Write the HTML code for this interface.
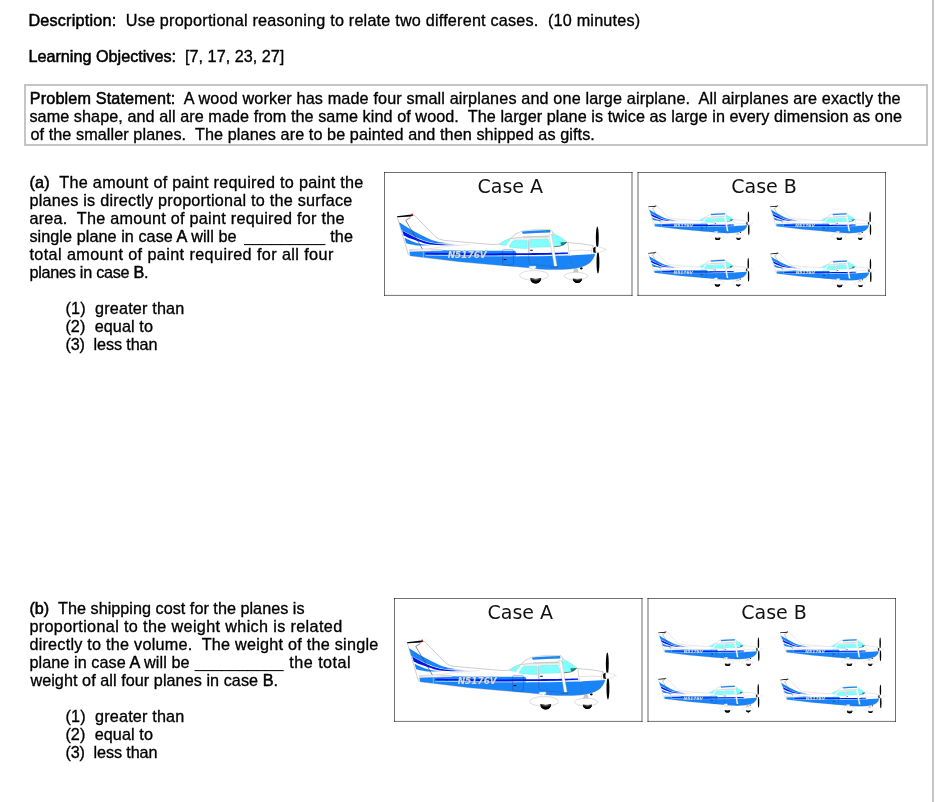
<!DOCTYPE html>
<html lang="en"><head><meta charset="utf-8"><title>Proportional reasoning</title>
<style>
html,body{margin:0;padding:0;background:#fff}
body{width:938px;height:802px;position:relative;overflow:hidden;font-family:"Liberation Sans", Arial, sans-serif;font-size:16.2px;color:#000}
.t{position:absolute;white-space:pre;line-height:18px;height:18px;-webkit-text-stroke:0.32px #000}
.t b{font-weight:normal;-webkit-text-stroke:0.52px #000}
.vr{position:absolute;left:932px;top:0;width:2px;height:802px;background:#c4c5c7}
.box{position:absolute;left:24px;top:84px;width:900px;height:58px;border:2px solid #c4c5c7}
.u{position:absolute;white-space:pre;line-height:18px;height:18px}
svg{position:absolute;left:0;top:0}
</style></head>
<body>
<div class="vr"></div>
<div class="box"></div>
<div class="t" id="l0" style="left:28.40px;top:11.00px;letter-spacing:0.206px"><b>Description:</b>  Use proportional reasoning to relate two different cases.  (10 minutes)</div>
<div class="t" id="l1" style="left:28.40px;top:47.00px;letter-spacing:0.006px"><b>Learning Objectives:</b>  [7, 17, 23, 27]</div>
<div class="t" id="l2" style="left:29.80px;top:89.00px;letter-spacing:0.144px"><b>Problem Statement:</b>  A wood worker has made four small airplanes and one large airplane.  All airplanes are exactly the</div>
<div class="t" id="l3" style="left:29.40px;top:107.00px;letter-spacing:0.070px">same shape, and all are made from the same kind of wood.  The larger plane is twice as large in every dimension as one</div>
<div class="t" id="l4" style="left:30.40px;top:125.00px;letter-spacing:0.087px">of the smaller planes.  The planes are to be painted and then shipped as gifts.</div>
<div class="t" id="l5" style="left:29.40px;top:173.00px;letter-spacing:0.289px"><b>(a)</b>  The amount of paint required to paint the</div>
<div class="t" id="l6" style="left:29.40px;top:191.00px;letter-spacing:0.236px">planes is directly proportional to the surface</div>
<div class="t" id="l7" style="left:29.40px;top:209.00px;letter-spacing:0.269px">area.  The amount of paint required for the</div>
<div class="t" id="l8" style="left:29.40px;top:227.00px;letter-spacing:0.066px">single plane in case <b>A</b> will be</div>
<div class="t" id="l9" style="left:330.20px;top:227.00px;letter-spacing:0.100px">the</div>
<div class="t" id="l10" style="left:29.40px;top:245.00px;letter-spacing:0.402px">total amount of paint required for all four</div>
<div class="t" id="l11" style="left:29.40px;top:263.00px;letter-spacing:-0.256px">planes in case <b>B</b>.</div>
<div class="t" id="l12" style="left:65.40px;top:299.00px;letter-spacing:0.175px">(1)  greater than</div>
<div class="t" id="l13" style="left:65.40px;top:317.00px;letter-spacing:0.092px">(2)  equal to</div>
<div class="t" id="l14" style="left:65.40px;top:335.00px;letter-spacing:-0.115px">(3)  less than</div>
<div class="t" id="l15" style="left:29.40px;top:599.00px;letter-spacing:0.026px"><b>(b)</b>  The shipping cost for the planes is</div>
<div class="t" id="l16" style="left:29.40px;top:617.00px;letter-spacing:0.355px">proportional to the weight which is related</div>
<div class="t" id="l17" style="left:29.40px;top:635.00px;letter-spacing:0.244px">directly to the volume.  The weight of the single</div>
<div class="t" id="l18" style="left:29.40px;top:653.00px;letter-spacing:0.077px">plane in case <b>A</b> will be</div>
<div class="t" id="l19" style="left:289.20px;top:653.00px;letter-spacing:0.487px">the total</div>
<div class="t" id="l20" style="left:30.40px;top:671.00px;letter-spacing:0.057px">weight of all four planes in case <b>B</b>.</div>
<div class="t" id="l21" style="left:65.40px;top:707.00px;letter-spacing:0.175px">(1)  greater than</div>
<div class="t" id="l22" style="left:65.40px;top:725.00px;letter-spacing:0.092px">(2)  equal to</div>
<div class="t" id="l23" style="left:65.40px;top:743.00px;letter-spacing:-0.115px">(3)  less than</div>
<div class="u" style="left:244.20px;top:227px;letter-spacing:0px">_________</div>
<div class="u" style="left:194.80px;top:653px;letter-spacing:-0.16px">__________</div>
<svg width="938" height="802" viewBox="0 0 938 802">
<g transform="translate(0,0)">
<rect x="384" y="172" width="248.7" height="123.8" fill="#fff"/>
<rect x="637.2" y="172" width="248.9" height="123.8" fill="#fff"/>
<path d="M384.5,172 V295.9" fill="none" stroke="#000" stroke-opacity="0.56" stroke-width="1.0"/>
<path d="M384,172.5 H632.5" fill="none" stroke="#000" stroke-opacity="0.56" stroke-width="1.0"/>
<path d="M384,295.4 H632.5" fill="none" stroke="#000" stroke-opacity="0.56" stroke-width="1.0"/>
<path d="M632.0,172 V295.9" fill="none" stroke="#000" stroke-opacity="0.56" stroke-width="1.05"/>
<path d="M638.0,172 V295.9" fill="none" stroke="#000" stroke-opacity="0.56" stroke-width="1.05"/>
<path d="M637.5,172.5 H886" fill="none" stroke="#000" stroke-opacity="0.56" stroke-width="1.0"/>
<path d="M637.5,295.4 H886" fill="none" stroke="#000" stroke-opacity="0.56" stroke-width="1.0"/>
<path d="M885.5,172 V295.9" fill="none" stroke="#000" stroke-opacity="0.56" stroke-width="1.0"/>
<text x="477.5" y="193.2" font-family="'DejaVu Sans', Verdana, sans-serif" font-size="19" fill="#111">Case A</text>
<text x="731.3" y="192.7" font-family="'DejaVu Sans', Verdana, sans-serif" font-size="19" fill="#111">Case B</text>
<g>
<linearGradient id="f1pa" gradientUnits="userSpaceOnUse" x1="437" y1="0" x2="452" y2="0"><stop offset="0" stop-color="#1884f8"/><stop offset="1" stop-color="#1884f8" stop-opacity="0"/></linearGradient>
<linearGradient id="f2pa" gradientUnits="userSpaceOnUse" x1="441" y1="0" x2="461" y2="0"><stop offset="0" stop-color="#0014f0"/><stop offset="1" stop-color="#0014f0" stop-opacity="0"/></linearGradient>
<linearGradient id="f3pa" gradientUnits="userSpaceOnUse" x1="420" y1="0" x2="432" y2="0"><stop offset="0" stop-color="#1884f8"/><stop offset="1" stop-color="#1884f8" stop-opacity="0"/></linearGradient>
<radialGradient id="wpa" cx="0.5" cy="0.05" r="0.55"><stop offset="0" stop-color="#c8c8c8"/><stop offset="0.5" stop-color="#444"/><stop offset="1" stop-color="#000"/></radialGradient>
<ellipse cx="535.7" cy="278.4" rx="5.5" ry="5.1" fill="url(#wpa)"/>
<ellipse cx="577.4" cy="278.8" rx="4.6" ry="4.3" fill="url(#wpa)"/>
<path d="M574.6,268.8 L577.2,268.8 L578.3,272.6 L573.2,272.6 Z" fill="#c9c9c9" stroke="#999" stroke-width="0.3"/>
<ellipse cx="581.3" cy="268.3" rx="1.4" ry="1.1" fill="#000"/>
<ellipse cx="534.1" cy="275.4" rx="14.5" ry="4.9" fill="#fff" stroke="#cfcfcf" stroke-width="0.7"/>
<ellipse cx="576.1" cy="276.1" rx="11.7" ry="3.8" fill="#fff" stroke="#cfcfcf" stroke-width="0.7"/>
<path d="M530.2,278.1 A5.5,5.4 0 0 0 541.2,278.1 Q535.7,278.9 530.2,278.1 Z" fill="url(#wpa)"/>
<path d="M572.8,278.5 A4.6,4.6 0 0 0 582.0,278.5 Q577.4,279.2 572.8,278.5 Z" fill="url(#wpa)"/>
<path d="M 408.34,254.48 L 397.25,216.96 L 414.73,215.51 L 436.06,237.42 Q 439.04,239.73 444.58,240.41 L 460.00,241.75 L 492.41,244.56 L 499.23,244.14 Q 504.35,240.47 511.17,238.34 Q 514.58,233.65 521.83,231.51 L 550.90,230.92 L 554.73,234.07 Q 562.41,237.91 566.84,242.17 L 567.95,242.60 Q 581.17,243.20 592.69,245.59 L 593.28,246.61 L 593.54,253.43 L 594.99,254.12 Q 593.54,260.09 588.85,263.50 Q 582.88,267.76 570.09,269.04 Q 555.59,270.15 538.53,269.04 L 528.23,267.76 L 460.00,261.79 L 410.04,255.76 Z" fill="#fff" stroke="#9c9c9c" stroke-width="0.5" stroke-linejoin="round"/>
<path d="M399.04,222.33 C401.09,223.57 407.14,227.37 411.32,229.75 C415.50,232.12 420.28,234.72 424.12,236.57 C427.95,238.42 430.94,239.80 434.35,240.84 C437.76,241.87 441.46,242.36 444.58,242.80 C447.71,243.24 451.69,243.37 453.11,243.48 L453.11,243.99 C451.69,243.96 447.71,243.99 444.58,243.82 C441.46,243.65 437.76,243.52 434.35,242.97 C430.94,242.41 427.95,241.83 424.12,240.49 C420.28,239.16 415.10,236.70 411.32,234.95 C407.54,233.20 403.08,230.83 401.43,230.00 Z" fill="url(#f1pa)"/>
<path d="M402.28,230.86 C403.79,231.62 407.68,233.76 411.32,235.46 C414.96,237.17 419.85,239.70 424.12,241.09 C428.38,242.48 431.79,243.21 436.91,243.82 C442.03,244.43 450.41,244.57 454.82,244.76 C459.23,244.94 461.93,244.90 463.35,244.93 L463.35,245.36 C461.93,245.36 459.23,245.43 454.82,245.36 C450.41,245.29 442.03,245.30 436.91,244.93 C431.79,244.56 428.38,244.15 424.12,243.14 C419.85,242.13 414.72,240.15 411.32,238.87 C407.92,237.59 405.00,236.03 403.73,235.46 Z" fill="url(#f2pa)"/>
<path d="M404.50,237.85 C405.64,238.38 408.76,240.01 411.32,241.01 C413.88,242.00 416.30,243.11 419.85,243.82 C423.40,244.53 430.51,245.03 432.64,245.27 L432.64,245.78 C430.51,245.75 423.40,245.84 419.85,245.61 C416.30,245.38 413.60,244.83 411.32,244.42 C409.05,244.01 407.06,243.35 406.20,243.14 Z" fill="url(#f3pa)"/>
<path d="M 410.30,217.64 L 405.78,220.37 L 422.84,249.79" fill="none" stroke="#3c3c3c" stroke-width="0.6" stroke-linejoin="round"/>
<path d="M 396.82,216.19 L 411.32,214.57 L 413.37,215.51 L 410.47,216.61 L 397.68,217.21 Z" fill="#000"/>
<circle cx="412.17" cy="214.40" r="0.95" fill="#f01818"/>
<path d="M 422.84,249.79 Q 441.17,246.55 470.17,244.50" fill="none" stroke="#d0d0d0" stroke-width="0.5"/>
<path d="M 409.45,251.84 L 444.16,250.13 L 460.00,250.70 L 514.58,250.70 Q 516.29,250.87 516.46,253.94 L 567.95,253.26 L 568.55,255.39 L 594.99,254.03 Q 593.54,260.09 588.85,263.50 Q 582.88,267.76 570.09,269.04 Q 555.59,270.15 538.53,269.04 L 528.23,267.76 L 460.00,261.79 L 410.04,255.76 Z" fill="#1884f8"/>
<path d="M425.40,255.30 C431.17,255.37 449.23,255.60 460.00,255.70 C470.77,255.80 480.67,255.88 490.00,255.90 C499.33,255.92 511.67,255.82 516.00,255.80" fill="none" stroke="#a4c8ff" stroke-width="1.1"/>
<path d="M516.00,255.75 C520.00,255.71 531.33,255.67 540.00,255.50 C548.67,255.33 563.08,254.78 568.00,254.75 C572.92,254.72 569.25,255.21 569.50,255.30" fill="none" stroke="#eef2ff" stroke-width="1.3"/>
<path d="M425.40,252.80 C431.17,252.87 449.23,253.10 460.00,253.20 C470.77,253.30 480.67,253.38 490.00,253.40 C499.33,253.42 507.67,253.37 516.00,253.30 C524.33,253.23 531.33,253.15 540.00,253.00 C548.67,252.85 563.33,252.50 568.00,252.40 L568.00,253.70 C563.33,253.87 548.67,254.47 540.00,254.70 C531.33,254.92 524.33,254.98 516.00,255.05 C507.67,255.12 499.33,255.17 490.00,255.15 C480.67,255.13 470.77,255.05 460.00,254.95 C449.23,254.85 431.17,254.62 425.40,254.55 Z" fill="#0014f0"/>
<path d="M 423.26,251.33 L 423.43,258.49" fill="none" stroke="#d8e6ff" stroke-width="0.5"/>
<path d="M 567.95,242.60 Q 568.55,249.85 569.40,255.82 Q 572.64,260.94 572.64,268.44" fill="none" stroke="#5a5a6a" stroke-opacity="0.55" stroke-width="0.45"/>
<path d="M 592.69,245.59 Q 590.98,249.85 591.58,254.29 Q 590.98,260.09 588.85,263.50" fill="none" stroke="#777" stroke-opacity="0.5" stroke-width="0.45"/>
<path d="M 569.40,250.87 Q 581.17,249.42 591.41,250.53" fill="none" stroke="#bbb" stroke-width="0.45"/>
<ellipse cx="425.82" cy="250.13" rx="16.8" ry="1.05" fill="#fff" stroke="#a8a8a8" stroke-width="0.45"/>
<path d="M 430.94,249.62 L 442.20,249.62 L 441.68,250.64 L 430.94,250.64 Z" fill="#d9d9d9"/>
<text x="447.7" y="257.5" font-family="'DejaVu Sans', Verdana, sans-serif" font-size="8.9" font-weight="bold" font-style="italic" fill="#e6e6e6" fill-opacity="0.9" stroke="#7a7a7a" stroke-opacity="0.8" stroke-width="0.3" paint-order="stroke">N5176V</text>
<path d="M 503.67,249.42 L 512.20,249.42 Q 513.39,249.59 513.39,250.87 L 513.39,263.67 Q 513.22,265.20 512.03,265.20 L 503.84,265.20 Q 502.64,265.03 502.64,263.67 L 502.64,250.87 Q 502.64,249.59 503.67,249.42 Z" fill="none" stroke="#203060" stroke-opacity="0.6" stroke-width="0.5"/>
<rect x="503.67" y="259.06" width="2.5" height="1.0" fill="#000"/>
<path d="M 528.66,240.47 L 528.66,260.94 Q 528.91,264.35 532.49,264.69 L 551.32,266.06" fill="none" stroke="#304070" stroke-opacity="0.55" stroke-width="0.5"/>
<path d="M 528.23,238.34 L 528.23,253.26 M 529.51,238.34 L 529.51,253.26" fill="none" stroke="#b5b5b5" stroke-width="0.4"/>
<rect x="530.11" y="249.77" width="2.7" height="1.1" rx="0.4" fill="#000"/>
<path d="M 511.17,238.34 Q 515.44,234.07 521.83,231.94 L 549.19,234.67 L 548.34,238.93 L 513.30,240.30 Z" fill="#efefef"/>
<path d="M 499.23,244.14 Q 504.35,240.30 511.17,238.08 L 506.06,245.59 Q 502.22,245.59 499.23,244.14 Z" fill="#80fffc" stroke="#74d4d0" stroke-width="0.3"/>
<path d="M 527.38,240.30 L 514.58,240.30 Q 512.45,240.47 511.17,242.86 L 509.21,246.01 Q 508.78,247.46 511.17,247.80 L 527.21,248.66 Z" fill="#80fffc" stroke="#74d4d0" stroke-width="0.3"/>
<path d="M 530.11,239.62 L 548.17,239.10 L 550.47,246.95 L 530.11,247.46 Z" fill="#80fffc" stroke="#74d4d0" stroke-width="0.3"/>
<path d="M 551.49,235.01 L 554.73,233.99 Q 562.41,237.48 566.67,242.00 Q 564.12,245.16 559.85,246.10 L 554.05,246.61 Z" fill="#80fffc"/>
<path d="M 560.53,242.35 L 566.67,242.00 Q 564.54,244.73 562.84,245.33 L 560.87,244.73 Z" fill="#188a86"/>
<path d="M 554.05,246.70 L 559.85,246.18 Q 564.12,245.25 566.76,242.09" fill="none" stroke="#0a2020" stroke-width="0.55"/>
<path d="M 511.17,238.34 Q 514.58,233.65 521.58,231.26 Q 536.82,228.10 550.90,229.55 Q 553.45,231.51 552.60,235.35 Q 551.32,236.38 549.19,235.86 L 523.11,237.06 Z" fill="#fff" stroke="#a8a8a8" stroke-width="0.45"/>
<path d="M522.2,231.5 Q536,229.9 550.0,229.95 Q550.9,231.2 550.2,232.5 Q536,233.1 523.0,233.75 Q521.7,232.7 522.2,231.5 Z" fill="#1884f8"/>
<path d="M 523.11,237.06 L 548.34,236.72" fill="none" stroke="#c4c4c4" stroke-width="0.9"/>
<circle cx="544.93" cy="231.51" r="0.85" fill="#18c828"/>
<path d="M 548.93,234.67 L 551.49,234.50 L 557.12,266.48 L 554.31,266.65 Z" fill="#fff" stroke="#b0b0b0" stroke-width="0.4"/>
<path d="M 550.90,266.48 L 557.97,266.31 L 558.14,267.93 L 550.72,267.93 Z" fill="#1470d8"/>
<path d="M 529.19,266.32 L 535.72,265.94 L 535.91,267.96 L 534.47,268.44 L 535.14,270.83 L 532.26,270.83 L 532.26,268.44 L 529.39,268.24 Z" fill="#fff" stroke="#cfcfcf" stroke-width="0.4"/>
<ellipse cx="597.3" cy="237.6" rx="1.45" ry="11.2" fill="#000"/>
<ellipse cx="597.95" cy="262.4" rx="1.45" ry="11.2" fill="#000"/>
<path d="M593.2,248.5 Q594,247 595.9,246.7 L596.3,253.0 Q594.4,253.0 593.5,252.2 Q592.9,250.4 593.2,248.5 Z" fill="#000"/>
<path d="M595.9,246.6 Q601.5,247.0 606.3,249.5 Q601.5,252.3 596.1,253.0 Q595.0,249.8 595.9,246.6 Z" fill="#fff" stroke="#bdbdbd" stroke-width="0.4"/>
</g>
<g transform="translate(449.80,98.35) scale(0.5)">
<linearGradient id="f1p0" gradientUnits="userSpaceOnUse" x1="437" y1="0" x2="452" y2="0"><stop offset="0" stop-color="#1884f8"/><stop offset="1" stop-color="#1884f8" stop-opacity="0"/></linearGradient>
<linearGradient id="f2p0" gradientUnits="userSpaceOnUse" x1="441" y1="0" x2="461" y2="0"><stop offset="0" stop-color="#0014f0"/><stop offset="1" stop-color="#0014f0" stop-opacity="0"/></linearGradient>
<linearGradient id="f3p0" gradientUnits="userSpaceOnUse" x1="420" y1="0" x2="432" y2="0"><stop offset="0" stop-color="#1884f8"/><stop offset="1" stop-color="#1884f8" stop-opacity="0"/></linearGradient>
<radialGradient id="wp0" cx="0.5" cy="0.05" r="0.55"><stop offset="0" stop-color="#c8c8c8"/><stop offset="0.5" stop-color="#444"/><stop offset="1" stop-color="#000"/></radialGradient>
<ellipse cx="535.7" cy="278.4" rx="5.5" ry="5.1" fill="url(#wp0)"/>
<ellipse cx="577.4" cy="278.8" rx="4.6" ry="4.3" fill="url(#wp0)"/>
<path d="M574.6,268.8 L577.2,268.8 L578.3,272.6 L573.2,272.6 Z" fill="#c9c9c9" stroke="#999" stroke-width="0.3"/>
<ellipse cx="581.3" cy="268.3" rx="1.4" ry="1.1" fill="#000"/>
<ellipse cx="534.1" cy="275.4" rx="14.5" ry="4.9" fill="#fff" stroke="#cfcfcf" stroke-width="0.7"/>
<ellipse cx="576.1" cy="276.1" rx="11.7" ry="3.8" fill="#fff" stroke="#cfcfcf" stroke-width="0.7"/>
<path d="M530.2,278.1 A5.5,5.4 0 0 0 541.2,278.1 Q535.7,278.9 530.2,278.1 Z" fill="url(#wp0)"/>
<path d="M572.8,278.5 A4.6,4.6 0 0 0 582.0,278.5 Q577.4,279.2 572.8,278.5 Z" fill="url(#wp0)"/>
<path d="M 408.34,254.48 L 397.25,216.96 L 414.73,215.51 L 436.06,237.42 Q 439.04,239.73 444.58,240.41 L 460.00,241.75 L 492.41,244.56 L 499.23,244.14 Q 504.35,240.47 511.17,238.34 Q 514.58,233.65 521.83,231.51 L 550.90,230.92 L 554.73,234.07 Q 562.41,237.91 566.84,242.17 L 567.95,242.60 Q 581.17,243.20 592.69,245.59 L 593.28,246.61 L 593.54,253.43 L 594.99,254.12 Q 593.54,260.09 588.85,263.50 Q 582.88,267.76 570.09,269.04 Q 555.59,270.15 538.53,269.04 L 528.23,267.76 L 460.00,261.79 L 410.04,255.76 Z" fill="#fff" stroke="#9c9c9c" stroke-width="0.5" stroke-linejoin="round"/>
<path d="M399.04,222.33 C401.09,223.57 407.14,227.37 411.32,229.75 C415.50,232.12 420.28,234.72 424.12,236.57 C427.95,238.42 430.94,239.80 434.35,240.84 C437.76,241.87 441.46,242.36 444.58,242.80 C447.71,243.24 451.69,243.37 453.11,243.48 L453.11,243.99 C451.69,243.96 447.71,243.99 444.58,243.82 C441.46,243.65 437.76,243.52 434.35,242.97 C430.94,242.41 427.95,241.83 424.12,240.49 C420.28,239.16 415.10,236.70 411.32,234.95 C407.54,233.20 403.08,230.83 401.43,230.00 Z" fill="url(#f1p0)"/>
<path d="M402.28,230.86 C403.79,231.62 407.68,233.76 411.32,235.46 C414.96,237.17 419.85,239.70 424.12,241.09 C428.38,242.48 431.79,243.21 436.91,243.82 C442.03,244.43 450.41,244.57 454.82,244.76 C459.23,244.94 461.93,244.90 463.35,244.93 L463.35,245.36 C461.93,245.36 459.23,245.43 454.82,245.36 C450.41,245.29 442.03,245.30 436.91,244.93 C431.79,244.56 428.38,244.15 424.12,243.14 C419.85,242.13 414.72,240.15 411.32,238.87 C407.92,237.59 405.00,236.03 403.73,235.46 Z" fill="url(#f2p0)"/>
<path d="M404.50,237.85 C405.64,238.38 408.76,240.01 411.32,241.01 C413.88,242.00 416.30,243.11 419.85,243.82 C423.40,244.53 430.51,245.03 432.64,245.27 L432.64,245.78 C430.51,245.75 423.40,245.84 419.85,245.61 C416.30,245.38 413.60,244.83 411.32,244.42 C409.05,244.01 407.06,243.35 406.20,243.14 Z" fill="url(#f3p0)"/>
<path d="M 410.30,217.64 L 405.78,220.37 L 422.84,249.79" fill="none" stroke="#3c3c3c" stroke-width="0.6" stroke-linejoin="round"/>
<path d="M 396.82,216.19 L 411.32,214.57 L 413.37,215.51 L 410.47,216.61 L 397.68,217.21 Z" fill="#000"/>
<circle cx="412.17" cy="214.40" r="0.95" fill="#f01818"/>
<path d="M 422.84,249.79 Q 441.17,246.55 470.17,244.50" fill="none" stroke="#d0d0d0" stroke-width="0.5"/>
<path d="M 409.45,251.84 L 444.16,250.13 L 460.00,250.70 L 514.58,250.70 Q 516.29,250.87 516.46,253.94 L 567.95,253.26 L 568.55,255.39 L 594.99,254.03 Q 593.54,260.09 588.85,263.50 Q 582.88,267.76 570.09,269.04 Q 555.59,270.15 538.53,269.04 L 528.23,267.76 L 460.00,261.79 L 410.04,255.76 Z" fill="#1884f8"/>
<path d="M425.40,255.30 C431.17,255.37 449.23,255.60 460.00,255.70 C470.77,255.80 480.67,255.88 490.00,255.90 C499.33,255.92 511.67,255.82 516.00,255.80" fill="none" stroke="#a4c8ff" stroke-width="1.1"/>
<path d="M516.00,255.75 C520.00,255.71 531.33,255.67 540.00,255.50 C548.67,255.33 563.08,254.78 568.00,254.75 C572.92,254.72 569.25,255.21 569.50,255.30" fill="none" stroke="#eef2ff" stroke-width="1.3"/>
<path d="M425.40,252.80 C431.17,252.87 449.23,253.10 460.00,253.20 C470.77,253.30 480.67,253.38 490.00,253.40 C499.33,253.42 507.67,253.37 516.00,253.30 C524.33,253.23 531.33,253.15 540.00,253.00 C548.67,252.85 563.33,252.50 568.00,252.40 L568.00,253.70 C563.33,253.87 548.67,254.47 540.00,254.70 C531.33,254.92 524.33,254.98 516.00,255.05 C507.67,255.12 499.33,255.17 490.00,255.15 C480.67,255.13 470.77,255.05 460.00,254.95 C449.23,254.85 431.17,254.62 425.40,254.55 Z" fill="#0014f0"/>
<path d="M 423.26,251.33 L 423.43,258.49" fill="none" stroke="#d8e6ff" stroke-width="0.5"/>
<path d="M 567.95,242.60 Q 568.55,249.85 569.40,255.82 Q 572.64,260.94 572.64,268.44" fill="none" stroke="#5a5a6a" stroke-opacity="0.55" stroke-width="0.45"/>
<path d="M 592.69,245.59 Q 590.98,249.85 591.58,254.29 Q 590.98,260.09 588.85,263.50" fill="none" stroke="#777" stroke-opacity="0.5" stroke-width="0.45"/>
<path d="M 569.40,250.87 Q 581.17,249.42 591.41,250.53" fill="none" stroke="#bbb" stroke-width="0.45"/>
<ellipse cx="425.82" cy="250.13" rx="16.8" ry="1.05" fill="#fff" stroke="#a8a8a8" stroke-width="0.45"/>
<path d="M 430.94,249.62 L 442.20,249.62 L 441.68,250.64 L 430.94,250.64 Z" fill="#d9d9d9"/>
<text x="447.7" y="257.5" font-family="'DejaVu Sans', Verdana, sans-serif" font-size="8.9" font-weight="bold" font-style="italic" fill="#e6e6e6" fill-opacity="0.9" stroke="#7a7a7a" stroke-opacity="0.8" stroke-width="0.3" paint-order="stroke">N5176V</text>
<path d="M 503.67,249.42 L 512.20,249.42 Q 513.39,249.59 513.39,250.87 L 513.39,263.67 Q 513.22,265.20 512.03,265.20 L 503.84,265.20 Q 502.64,265.03 502.64,263.67 L 502.64,250.87 Q 502.64,249.59 503.67,249.42 Z" fill="none" stroke="#203060" stroke-opacity="0.6" stroke-width="0.5"/>
<rect x="503.67" y="259.06" width="2.5" height="1.0" fill="#000"/>
<path d="M 528.66,240.47 L 528.66,260.94 Q 528.91,264.35 532.49,264.69 L 551.32,266.06" fill="none" stroke="#304070" stroke-opacity="0.55" stroke-width="0.5"/>
<path d="M 528.23,238.34 L 528.23,253.26 M 529.51,238.34 L 529.51,253.26" fill="none" stroke="#b5b5b5" stroke-width="0.4"/>
<rect x="530.11" y="249.77" width="2.7" height="1.1" rx="0.4" fill="#000"/>
<path d="M 511.17,238.34 Q 515.44,234.07 521.83,231.94 L 549.19,234.67 L 548.34,238.93 L 513.30,240.30 Z" fill="#efefef"/>
<path d="M 499.23,244.14 Q 504.35,240.30 511.17,238.08 L 506.06,245.59 Q 502.22,245.59 499.23,244.14 Z" fill="#80fffc" stroke="#74d4d0" stroke-width="0.3"/>
<path d="M 527.38,240.30 L 514.58,240.30 Q 512.45,240.47 511.17,242.86 L 509.21,246.01 Q 508.78,247.46 511.17,247.80 L 527.21,248.66 Z" fill="#80fffc" stroke="#74d4d0" stroke-width="0.3"/>
<path d="M 530.11,239.62 L 548.17,239.10 L 550.47,246.95 L 530.11,247.46 Z" fill="#80fffc" stroke="#74d4d0" stroke-width="0.3"/>
<path d="M 551.49,235.01 L 554.73,233.99 Q 562.41,237.48 566.67,242.00 Q 564.12,245.16 559.85,246.10 L 554.05,246.61 Z" fill="#80fffc"/>
<path d="M 560.53,242.35 L 566.67,242.00 Q 564.54,244.73 562.84,245.33 L 560.87,244.73 Z" fill="#188a86"/>
<path d="M 554.05,246.70 L 559.85,246.18 Q 564.12,245.25 566.76,242.09" fill="none" stroke="#0a2020" stroke-width="0.55"/>
<path d="M 511.17,238.34 Q 514.58,233.65 521.58,231.26 Q 536.82,228.10 550.90,229.55 Q 553.45,231.51 552.60,235.35 Q 551.32,236.38 549.19,235.86 L 523.11,237.06 Z" fill="#fff" stroke="#a8a8a8" stroke-width="0.45"/>
<path d="M522.2,231.5 Q536,229.9 550.0,229.95 Q550.9,231.2 550.2,232.5 Q536,233.1 523.0,233.75 Q521.7,232.7 522.2,231.5 Z" fill="#1884f8"/>
<path d="M 523.11,237.06 L 548.34,236.72" fill="none" stroke="#c4c4c4" stroke-width="0.9"/>
<circle cx="544.93" cy="231.51" r="0.85" fill="#18c828"/>
<path d="M 548.93,234.67 L 551.49,234.50 L 557.12,266.48 L 554.31,266.65 Z" fill="#fff" stroke="#b0b0b0" stroke-width="0.4"/>
<path d="M 550.90,266.48 L 557.97,266.31 L 558.14,267.93 L 550.72,267.93 Z" fill="#1470d8"/>
<path d="M 529.19,266.32 L 535.72,265.94 L 535.91,267.96 L 534.47,268.44 L 535.14,270.83 L 532.26,270.83 L 532.26,268.44 L 529.39,268.24 Z" fill="#fff" stroke="#cfcfcf" stroke-width="0.4"/>
<ellipse cx="597.3" cy="237.6" rx="1.45" ry="11.2" fill="#000"/>
<ellipse cx="597.95" cy="262.4" rx="1.45" ry="11.2" fill="#000"/>
<path d="M593.2,248.5 Q594,247 595.9,246.7 L596.3,253.0 Q594.4,253.0 593.5,252.2 Q592.9,250.4 593.2,248.5 Z" fill="#000"/>
<path d="M595.9,246.6 Q601.5,247.0 606.3,249.5 Q601.5,252.3 596.1,253.0 Q595.0,249.8 595.9,246.6 Z" fill="#fff" stroke="#bdbdbd" stroke-width="0.4"/>
</g>
<g transform="translate(571.50,98.35) scale(0.5)">
<linearGradient id="f1p1" gradientUnits="userSpaceOnUse" x1="437" y1="0" x2="452" y2="0"><stop offset="0" stop-color="#1884f8"/><stop offset="1" stop-color="#1884f8" stop-opacity="0"/></linearGradient>
<linearGradient id="f2p1" gradientUnits="userSpaceOnUse" x1="441" y1="0" x2="461" y2="0"><stop offset="0" stop-color="#0014f0"/><stop offset="1" stop-color="#0014f0" stop-opacity="0"/></linearGradient>
<linearGradient id="f3p1" gradientUnits="userSpaceOnUse" x1="420" y1="0" x2="432" y2="0"><stop offset="0" stop-color="#1884f8"/><stop offset="1" stop-color="#1884f8" stop-opacity="0"/></linearGradient>
<radialGradient id="wp1" cx="0.5" cy="0.05" r="0.55"><stop offset="0" stop-color="#c8c8c8"/><stop offset="0.5" stop-color="#444"/><stop offset="1" stop-color="#000"/></radialGradient>
<ellipse cx="535.7" cy="278.4" rx="5.5" ry="5.1" fill="url(#wp1)"/>
<ellipse cx="577.4" cy="278.8" rx="4.6" ry="4.3" fill="url(#wp1)"/>
<path d="M574.6,268.8 L577.2,268.8 L578.3,272.6 L573.2,272.6 Z" fill="#c9c9c9" stroke="#999" stroke-width="0.3"/>
<ellipse cx="581.3" cy="268.3" rx="1.4" ry="1.1" fill="#000"/>
<ellipse cx="534.1" cy="275.4" rx="14.5" ry="4.9" fill="#fff" stroke="#cfcfcf" stroke-width="0.7"/>
<ellipse cx="576.1" cy="276.1" rx="11.7" ry="3.8" fill="#fff" stroke="#cfcfcf" stroke-width="0.7"/>
<path d="M530.2,278.1 A5.5,5.4 0 0 0 541.2,278.1 Q535.7,278.9 530.2,278.1 Z" fill="url(#wp1)"/>
<path d="M572.8,278.5 A4.6,4.6 0 0 0 582.0,278.5 Q577.4,279.2 572.8,278.5 Z" fill="url(#wp1)"/>
<path d="M 408.34,254.48 L 397.25,216.96 L 414.73,215.51 L 436.06,237.42 Q 439.04,239.73 444.58,240.41 L 460.00,241.75 L 492.41,244.56 L 499.23,244.14 Q 504.35,240.47 511.17,238.34 Q 514.58,233.65 521.83,231.51 L 550.90,230.92 L 554.73,234.07 Q 562.41,237.91 566.84,242.17 L 567.95,242.60 Q 581.17,243.20 592.69,245.59 L 593.28,246.61 L 593.54,253.43 L 594.99,254.12 Q 593.54,260.09 588.85,263.50 Q 582.88,267.76 570.09,269.04 Q 555.59,270.15 538.53,269.04 L 528.23,267.76 L 460.00,261.79 L 410.04,255.76 Z" fill="#fff" stroke="#9c9c9c" stroke-width="0.5" stroke-linejoin="round"/>
<path d="M399.04,222.33 C401.09,223.57 407.14,227.37 411.32,229.75 C415.50,232.12 420.28,234.72 424.12,236.57 C427.95,238.42 430.94,239.80 434.35,240.84 C437.76,241.87 441.46,242.36 444.58,242.80 C447.71,243.24 451.69,243.37 453.11,243.48 L453.11,243.99 C451.69,243.96 447.71,243.99 444.58,243.82 C441.46,243.65 437.76,243.52 434.35,242.97 C430.94,242.41 427.95,241.83 424.12,240.49 C420.28,239.16 415.10,236.70 411.32,234.95 C407.54,233.20 403.08,230.83 401.43,230.00 Z" fill="url(#f1p1)"/>
<path d="M402.28,230.86 C403.79,231.62 407.68,233.76 411.32,235.46 C414.96,237.17 419.85,239.70 424.12,241.09 C428.38,242.48 431.79,243.21 436.91,243.82 C442.03,244.43 450.41,244.57 454.82,244.76 C459.23,244.94 461.93,244.90 463.35,244.93 L463.35,245.36 C461.93,245.36 459.23,245.43 454.82,245.36 C450.41,245.29 442.03,245.30 436.91,244.93 C431.79,244.56 428.38,244.15 424.12,243.14 C419.85,242.13 414.72,240.15 411.32,238.87 C407.92,237.59 405.00,236.03 403.73,235.46 Z" fill="url(#f2p1)"/>
<path d="M404.50,237.85 C405.64,238.38 408.76,240.01 411.32,241.01 C413.88,242.00 416.30,243.11 419.85,243.82 C423.40,244.53 430.51,245.03 432.64,245.27 L432.64,245.78 C430.51,245.75 423.40,245.84 419.85,245.61 C416.30,245.38 413.60,244.83 411.32,244.42 C409.05,244.01 407.06,243.35 406.20,243.14 Z" fill="url(#f3p1)"/>
<path d="M 410.30,217.64 L 405.78,220.37 L 422.84,249.79" fill="none" stroke="#3c3c3c" stroke-width="0.6" stroke-linejoin="round"/>
<path d="M 396.82,216.19 L 411.32,214.57 L 413.37,215.51 L 410.47,216.61 L 397.68,217.21 Z" fill="#000"/>
<circle cx="412.17" cy="214.40" r="0.95" fill="#f01818"/>
<path d="M 422.84,249.79 Q 441.17,246.55 470.17,244.50" fill="none" stroke="#d0d0d0" stroke-width="0.5"/>
<path d="M 409.45,251.84 L 444.16,250.13 L 460.00,250.70 L 514.58,250.70 Q 516.29,250.87 516.46,253.94 L 567.95,253.26 L 568.55,255.39 L 594.99,254.03 Q 593.54,260.09 588.85,263.50 Q 582.88,267.76 570.09,269.04 Q 555.59,270.15 538.53,269.04 L 528.23,267.76 L 460.00,261.79 L 410.04,255.76 Z" fill="#1884f8"/>
<path d="M425.40,255.30 C431.17,255.37 449.23,255.60 460.00,255.70 C470.77,255.80 480.67,255.88 490.00,255.90 C499.33,255.92 511.67,255.82 516.00,255.80" fill="none" stroke="#a4c8ff" stroke-width="1.1"/>
<path d="M516.00,255.75 C520.00,255.71 531.33,255.67 540.00,255.50 C548.67,255.33 563.08,254.78 568.00,254.75 C572.92,254.72 569.25,255.21 569.50,255.30" fill="none" stroke="#eef2ff" stroke-width="1.3"/>
<path d="M425.40,252.80 C431.17,252.87 449.23,253.10 460.00,253.20 C470.77,253.30 480.67,253.38 490.00,253.40 C499.33,253.42 507.67,253.37 516.00,253.30 C524.33,253.23 531.33,253.15 540.00,253.00 C548.67,252.85 563.33,252.50 568.00,252.40 L568.00,253.70 C563.33,253.87 548.67,254.47 540.00,254.70 C531.33,254.92 524.33,254.98 516.00,255.05 C507.67,255.12 499.33,255.17 490.00,255.15 C480.67,255.13 470.77,255.05 460.00,254.95 C449.23,254.85 431.17,254.62 425.40,254.55 Z" fill="#0014f0"/>
<path d="M 423.26,251.33 L 423.43,258.49" fill="none" stroke="#d8e6ff" stroke-width="0.5"/>
<path d="M 567.95,242.60 Q 568.55,249.85 569.40,255.82 Q 572.64,260.94 572.64,268.44" fill="none" stroke="#5a5a6a" stroke-opacity="0.55" stroke-width="0.45"/>
<path d="M 592.69,245.59 Q 590.98,249.85 591.58,254.29 Q 590.98,260.09 588.85,263.50" fill="none" stroke="#777" stroke-opacity="0.5" stroke-width="0.45"/>
<path d="M 569.40,250.87 Q 581.17,249.42 591.41,250.53" fill="none" stroke="#bbb" stroke-width="0.45"/>
<ellipse cx="425.82" cy="250.13" rx="16.8" ry="1.05" fill="#fff" stroke="#a8a8a8" stroke-width="0.45"/>
<path d="M 430.94,249.62 L 442.20,249.62 L 441.68,250.64 L 430.94,250.64 Z" fill="#d9d9d9"/>
<text x="447.7" y="257.5" font-family="'DejaVu Sans', Verdana, sans-serif" font-size="8.9" font-weight="bold" font-style="italic" fill="#e6e6e6" fill-opacity="0.9" stroke="#7a7a7a" stroke-opacity="0.8" stroke-width="0.3" paint-order="stroke">N5176V</text>
<path d="M 503.67,249.42 L 512.20,249.42 Q 513.39,249.59 513.39,250.87 L 513.39,263.67 Q 513.22,265.20 512.03,265.20 L 503.84,265.20 Q 502.64,265.03 502.64,263.67 L 502.64,250.87 Q 502.64,249.59 503.67,249.42 Z" fill="none" stroke="#203060" stroke-opacity="0.6" stroke-width="0.5"/>
<rect x="503.67" y="259.06" width="2.5" height="1.0" fill="#000"/>
<path d="M 528.66,240.47 L 528.66,260.94 Q 528.91,264.35 532.49,264.69 L 551.32,266.06" fill="none" stroke="#304070" stroke-opacity="0.55" stroke-width="0.5"/>
<path d="M 528.23,238.34 L 528.23,253.26 M 529.51,238.34 L 529.51,253.26" fill="none" stroke="#b5b5b5" stroke-width="0.4"/>
<rect x="530.11" y="249.77" width="2.7" height="1.1" rx="0.4" fill="#000"/>
<path d="M 511.17,238.34 Q 515.44,234.07 521.83,231.94 L 549.19,234.67 L 548.34,238.93 L 513.30,240.30 Z" fill="#efefef"/>
<path d="M 499.23,244.14 Q 504.35,240.30 511.17,238.08 L 506.06,245.59 Q 502.22,245.59 499.23,244.14 Z" fill="#80fffc" stroke="#74d4d0" stroke-width="0.3"/>
<path d="M 527.38,240.30 L 514.58,240.30 Q 512.45,240.47 511.17,242.86 L 509.21,246.01 Q 508.78,247.46 511.17,247.80 L 527.21,248.66 Z" fill="#80fffc" stroke="#74d4d0" stroke-width="0.3"/>
<path d="M 530.11,239.62 L 548.17,239.10 L 550.47,246.95 L 530.11,247.46 Z" fill="#80fffc" stroke="#74d4d0" stroke-width="0.3"/>
<path d="M 551.49,235.01 L 554.73,233.99 Q 562.41,237.48 566.67,242.00 Q 564.12,245.16 559.85,246.10 L 554.05,246.61 Z" fill="#80fffc"/>
<path d="M 560.53,242.35 L 566.67,242.00 Q 564.54,244.73 562.84,245.33 L 560.87,244.73 Z" fill="#188a86"/>
<path d="M 554.05,246.70 L 559.85,246.18 Q 564.12,245.25 566.76,242.09" fill="none" stroke="#0a2020" stroke-width="0.55"/>
<path d="M 511.17,238.34 Q 514.58,233.65 521.58,231.26 Q 536.82,228.10 550.90,229.55 Q 553.45,231.51 552.60,235.35 Q 551.32,236.38 549.19,235.86 L 523.11,237.06 Z" fill="#fff" stroke="#a8a8a8" stroke-width="0.45"/>
<path d="M522.2,231.5 Q536,229.9 550.0,229.95 Q550.9,231.2 550.2,232.5 Q536,233.1 523.0,233.75 Q521.7,232.7 522.2,231.5 Z" fill="#1884f8"/>
<path d="M 523.11,237.06 L 548.34,236.72" fill="none" stroke="#c4c4c4" stroke-width="0.9"/>
<circle cx="544.93" cy="231.51" r="0.85" fill="#18c828"/>
<path d="M 548.93,234.67 L 551.49,234.50 L 557.12,266.48 L 554.31,266.65 Z" fill="#fff" stroke="#b0b0b0" stroke-width="0.4"/>
<path d="M 550.90,266.48 L 557.97,266.31 L 558.14,267.93 L 550.72,267.93 Z" fill="#1470d8"/>
<path d="M 529.19,266.32 L 535.72,265.94 L 535.91,267.96 L 534.47,268.44 L 535.14,270.83 L 532.26,270.83 L 532.26,268.44 L 529.39,268.24 Z" fill="#fff" stroke="#cfcfcf" stroke-width="0.4"/>
<ellipse cx="597.3" cy="237.6" rx="1.45" ry="11.2" fill="#000"/>
<ellipse cx="597.95" cy="262.4" rx="1.45" ry="11.2" fill="#000"/>
<path d="M593.2,248.5 Q594,247 595.9,246.7 L596.3,253.0 Q594.4,253.0 593.5,252.2 Q592.9,250.4 593.2,248.5 Z" fill="#000"/>
<path d="M595.9,246.6 Q601.5,247.0 606.3,249.5 Q601.5,252.3 596.1,253.0 Q595.0,249.8 595.9,246.6 Z" fill="#fff" stroke="#bdbdbd" stroke-width="0.4"/>
</g>
<g transform="translate(449.60,144.85) scale(0.5)">
<linearGradient id="f1p2" gradientUnits="userSpaceOnUse" x1="437" y1="0" x2="452" y2="0"><stop offset="0" stop-color="#1884f8"/><stop offset="1" stop-color="#1884f8" stop-opacity="0"/></linearGradient>
<linearGradient id="f2p2" gradientUnits="userSpaceOnUse" x1="441" y1="0" x2="461" y2="0"><stop offset="0" stop-color="#0014f0"/><stop offset="1" stop-color="#0014f0" stop-opacity="0"/></linearGradient>
<linearGradient id="f3p2" gradientUnits="userSpaceOnUse" x1="420" y1="0" x2="432" y2="0"><stop offset="0" stop-color="#1884f8"/><stop offset="1" stop-color="#1884f8" stop-opacity="0"/></linearGradient>
<radialGradient id="wp2" cx="0.5" cy="0.05" r="0.55"><stop offset="0" stop-color="#c8c8c8"/><stop offset="0.5" stop-color="#444"/><stop offset="1" stop-color="#000"/></radialGradient>
<ellipse cx="535.7" cy="278.4" rx="5.5" ry="5.1" fill="url(#wp2)"/>
<ellipse cx="577.4" cy="278.8" rx="4.6" ry="4.3" fill="url(#wp2)"/>
<path d="M574.6,268.8 L577.2,268.8 L578.3,272.6 L573.2,272.6 Z" fill="#c9c9c9" stroke="#999" stroke-width="0.3"/>
<ellipse cx="581.3" cy="268.3" rx="1.4" ry="1.1" fill="#000"/>
<ellipse cx="534.1" cy="275.4" rx="14.5" ry="4.9" fill="#fff" stroke="#cfcfcf" stroke-width="0.7"/>
<ellipse cx="576.1" cy="276.1" rx="11.7" ry="3.8" fill="#fff" stroke="#cfcfcf" stroke-width="0.7"/>
<path d="M530.2,278.1 A5.5,5.4 0 0 0 541.2,278.1 Q535.7,278.9 530.2,278.1 Z" fill="url(#wp2)"/>
<path d="M572.8,278.5 A4.6,4.6 0 0 0 582.0,278.5 Q577.4,279.2 572.8,278.5 Z" fill="url(#wp2)"/>
<path d="M 408.34,254.48 L 397.25,216.96 L 414.73,215.51 L 436.06,237.42 Q 439.04,239.73 444.58,240.41 L 460.00,241.75 L 492.41,244.56 L 499.23,244.14 Q 504.35,240.47 511.17,238.34 Q 514.58,233.65 521.83,231.51 L 550.90,230.92 L 554.73,234.07 Q 562.41,237.91 566.84,242.17 L 567.95,242.60 Q 581.17,243.20 592.69,245.59 L 593.28,246.61 L 593.54,253.43 L 594.99,254.12 Q 593.54,260.09 588.85,263.50 Q 582.88,267.76 570.09,269.04 Q 555.59,270.15 538.53,269.04 L 528.23,267.76 L 460.00,261.79 L 410.04,255.76 Z" fill="#fff" stroke="#9c9c9c" stroke-width="0.5" stroke-linejoin="round"/>
<path d="M399.04,222.33 C401.09,223.57 407.14,227.37 411.32,229.75 C415.50,232.12 420.28,234.72 424.12,236.57 C427.95,238.42 430.94,239.80 434.35,240.84 C437.76,241.87 441.46,242.36 444.58,242.80 C447.71,243.24 451.69,243.37 453.11,243.48 L453.11,243.99 C451.69,243.96 447.71,243.99 444.58,243.82 C441.46,243.65 437.76,243.52 434.35,242.97 C430.94,242.41 427.95,241.83 424.12,240.49 C420.28,239.16 415.10,236.70 411.32,234.95 C407.54,233.20 403.08,230.83 401.43,230.00 Z" fill="url(#f1p2)"/>
<path d="M402.28,230.86 C403.79,231.62 407.68,233.76 411.32,235.46 C414.96,237.17 419.85,239.70 424.12,241.09 C428.38,242.48 431.79,243.21 436.91,243.82 C442.03,244.43 450.41,244.57 454.82,244.76 C459.23,244.94 461.93,244.90 463.35,244.93 L463.35,245.36 C461.93,245.36 459.23,245.43 454.82,245.36 C450.41,245.29 442.03,245.30 436.91,244.93 C431.79,244.56 428.38,244.15 424.12,243.14 C419.85,242.13 414.72,240.15 411.32,238.87 C407.92,237.59 405.00,236.03 403.73,235.46 Z" fill="url(#f2p2)"/>
<path d="M404.50,237.85 C405.64,238.38 408.76,240.01 411.32,241.01 C413.88,242.00 416.30,243.11 419.85,243.82 C423.40,244.53 430.51,245.03 432.64,245.27 L432.64,245.78 C430.51,245.75 423.40,245.84 419.85,245.61 C416.30,245.38 413.60,244.83 411.32,244.42 C409.05,244.01 407.06,243.35 406.20,243.14 Z" fill="url(#f3p2)"/>
<path d="M 410.30,217.64 L 405.78,220.37 L 422.84,249.79" fill="none" stroke="#3c3c3c" stroke-width="0.6" stroke-linejoin="round"/>
<path d="M 396.82,216.19 L 411.32,214.57 L 413.37,215.51 L 410.47,216.61 L 397.68,217.21 Z" fill="#000"/>
<circle cx="412.17" cy="214.40" r="0.95" fill="#f01818"/>
<path d="M 422.84,249.79 Q 441.17,246.55 470.17,244.50" fill="none" stroke="#d0d0d0" stroke-width="0.5"/>
<path d="M 409.45,251.84 L 444.16,250.13 L 460.00,250.70 L 514.58,250.70 Q 516.29,250.87 516.46,253.94 L 567.95,253.26 L 568.55,255.39 L 594.99,254.03 Q 593.54,260.09 588.85,263.50 Q 582.88,267.76 570.09,269.04 Q 555.59,270.15 538.53,269.04 L 528.23,267.76 L 460.00,261.79 L 410.04,255.76 Z" fill="#1884f8"/>
<path d="M425.40,255.30 C431.17,255.37 449.23,255.60 460.00,255.70 C470.77,255.80 480.67,255.88 490.00,255.90 C499.33,255.92 511.67,255.82 516.00,255.80" fill="none" stroke="#a4c8ff" stroke-width="1.1"/>
<path d="M516.00,255.75 C520.00,255.71 531.33,255.67 540.00,255.50 C548.67,255.33 563.08,254.78 568.00,254.75 C572.92,254.72 569.25,255.21 569.50,255.30" fill="none" stroke="#eef2ff" stroke-width="1.3"/>
<path d="M425.40,252.80 C431.17,252.87 449.23,253.10 460.00,253.20 C470.77,253.30 480.67,253.38 490.00,253.40 C499.33,253.42 507.67,253.37 516.00,253.30 C524.33,253.23 531.33,253.15 540.00,253.00 C548.67,252.85 563.33,252.50 568.00,252.40 L568.00,253.70 C563.33,253.87 548.67,254.47 540.00,254.70 C531.33,254.92 524.33,254.98 516.00,255.05 C507.67,255.12 499.33,255.17 490.00,255.15 C480.67,255.13 470.77,255.05 460.00,254.95 C449.23,254.85 431.17,254.62 425.40,254.55 Z" fill="#0014f0"/>
<path d="M 423.26,251.33 L 423.43,258.49" fill="none" stroke="#d8e6ff" stroke-width="0.5"/>
<path d="M 567.95,242.60 Q 568.55,249.85 569.40,255.82 Q 572.64,260.94 572.64,268.44" fill="none" stroke="#5a5a6a" stroke-opacity="0.55" stroke-width="0.45"/>
<path d="M 592.69,245.59 Q 590.98,249.85 591.58,254.29 Q 590.98,260.09 588.85,263.50" fill="none" stroke="#777" stroke-opacity="0.5" stroke-width="0.45"/>
<path d="M 569.40,250.87 Q 581.17,249.42 591.41,250.53" fill="none" stroke="#bbb" stroke-width="0.45"/>
<ellipse cx="425.82" cy="250.13" rx="16.8" ry="1.05" fill="#fff" stroke="#a8a8a8" stroke-width="0.45"/>
<path d="M 430.94,249.62 L 442.20,249.62 L 441.68,250.64 L 430.94,250.64 Z" fill="#d9d9d9"/>
<text x="447.7" y="257.5" font-family="'DejaVu Sans', Verdana, sans-serif" font-size="8.9" font-weight="bold" font-style="italic" fill="#e6e6e6" fill-opacity="0.9" stroke="#7a7a7a" stroke-opacity="0.8" stroke-width="0.3" paint-order="stroke">N5176V</text>
<path d="M 503.67,249.42 L 512.20,249.42 Q 513.39,249.59 513.39,250.87 L 513.39,263.67 Q 513.22,265.20 512.03,265.20 L 503.84,265.20 Q 502.64,265.03 502.64,263.67 L 502.64,250.87 Q 502.64,249.59 503.67,249.42 Z" fill="none" stroke="#203060" stroke-opacity="0.6" stroke-width="0.5"/>
<rect x="503.67" y="259.06" width="2.5" height="1.0" fill="#000"/>
<path d="M 528.66,240.47 L 528.66,260.94 Q 528.91,264.35 532.49,264.69 L 551.32,266.06" fill="none" stroke="#304070" stroke-opacity="0.55" stroke-width="0.5"/>
<path d="M 528.23,238.34 L 528.23,253.26 M 529.51,238.34 L 529.51,253.26" fill="none" stroke="#b5b5b5" stroke-width="0.4"/>
<rect x="530.11" y="249.77" width="2.7" height="1.1" rx="0.4" fill="#000"/>
<path d="M 511.17,238.34 Q 515.44,234.07 521.83,231.94 L 549.19,234.67 L 548.34,238.93 L 513.30,240.30 Z" fill="#efefef"/>
<path d="M 499.23,244.14 Q 504.35,240.30 511.17,238.08 L 506.06,245.59 Q 502.22,245.59 499.23,244.14 Z" fill="#80fffc" stroke="#74d4d0" stroke-width="0.3"/>
<path d="M 527.38,240.30 L 514.58,240.30 Q 512.45,240.47 511.17,242.86 L 509.21,246.01 Q 508.78,247.46 511.17,247.80 L 527.21,248.66 Z" fill="#80fffc" stroke="#74d4d0" stroke-width="0.3"/>
<path d="M 530.11,239.62 L 548.17,239.10 L 550.47,246.95 L 530.11,247.46 Z" fill="#80fffc" stroke="#74d4d0" stroke-width="0.3"/>
<path d="M 551.49,235.01 L 554.73,233.99 Q 562.41,237.48 566.67,242.00 Q 564.12,245.16 559.85,246.10 L 554.05,246.61 Z" fill="#80fffc"/>
<path d="M 560.53,242.35 L 566.67,242.00 Q 564.54,244.73 562.84,245.33 L 560.87,244.73 Z" fill="#188a86"/>
<path d="M 554.05,246.70 L 559.85,246.18 Q 564.12,245.25 566.76,242.09" fill="none" stroke="#0a2020" stroke-width="0.55"/>
<path d="M 511.17,238.34 Q 514.58,233.65 521.58,231.26 Q 536.82,228.10 550.90,229.55 Q 553.45,231.51 552.60,235.35 Q 551.32,236.38 549.19,235.86 L 523.11,237.06 Z" fill="#fff" stroke="#a8a8a8" stroke-width="0.45"/>
<path d="M522.2,231.5 Q536,229.9 550.0,229.95 Q550.9,231.2 550.2,232.5 Q536,233.1 523.0,233.75 Q521.7,232.7 522.2,231.5 Z" fill="#1884f8"/>
<path d="M 523.11,237.06 L 548.34,236.72" fill="none" stroke="#c4c4c4" stroke-width="0.9"/>
<circle cx="544.93" cy="231.51" r="0.85" fill="#18c828"/>
<path d="M 548.93,234.67 L 551.49,234.50 L 557.12,266.48 L 554.31,266.65 Z" fill="#fff" stroke="#b0b0b0" stroke-width="0.4"/>
<path d="M 550.90,266.48 L 557.97,266.31 L 558.14,267.93 L 550.72,267.93 Z" fill="#1470d8"/>
<path d="M 529.19,266.32 L 535.72,265.94 L 535.91,267.96 L 534.47,268.44 L 535.14,270.83 L 532.26,270.83 L 532.26,268.44 L 529.39,268.24 Z" fill="#fff" stroke="#cfcfcf" stroke-width="0.4"/>
<ellipse cx="597.3" cy="237.6" rx="1.45" ry="11.2" fill="#000"/>
<ellipse cx="597.95" cy="262.4" rx="1.45" ry="11.2" fill="#000"/>
<path d="M593.2,248.5 Q594,247 595.9,246.7 L596.3,253.0 Q594.4,253.0 593.5,252.2 Q592.9,250.4 593.2,248.5 Z" fill="#000"/>
<path d="M595.9,246.6 Q601.5,247.0 606.3,249.5 Q601.5,252.3 596.1,253.0 Q595.0,249.8 595.9,246.6 Z" fill="#fff" stroke="#bdbdbd" stroke-width="0.4"/>
</g>
<g transform="translate(571.80,145.55) scale(0.5)">
<linearGradient id="f1p3" gradientUnits="userSpaceOnUse" x1="437" y1="0" x2="452" y2="0"><stop offset="0" stop-color="#1884f8"/><stop offset="1" stop-color="#1884f8" stop-opacity="0"/></linearGradient>
<linearGradient id="f2p3" gradientUnits="userSpaceOnUse" x1="441" y1="0" x2="461" y2="0"><stop offset="0" stop-color="#0014f0"/><stop offset="1" stop-color="#0014f0" stop-opacity="0"/></linearGradient>
<linearGradient id="f3p3" gradientUnits="userSpaceOnUse" x1="420" y1="0" x2="432" y2="0"><stop offset="0" stop-color="#1884f8"/><stop offset="1" stop-color="#1884f8" stop-opacity="0"/></linearGradient>
<radialGradient id="wp3" cx="0.5" cy="0.05" r="0.55"><stop offset="0" stop-color="#c8c8c8"/><stop offset="0.5" stop-color="#444"/><stop offset="1" stop-color="#000"/></radialGradient>
<ellipse cx="535.7" cy="278.4" rx="5.5" ry="5.1" fill="url(#wp3)"/>
<ellipse cx="577.4" cy="278.8" rx="4.6" ry="4.3" fill="url(#wp3)"/>
<path d="M574.6,268.8 L577.2,268.8 L578.3,272.6 L573.2,272.6 Z" fill="#c9c9c9" stroke="#999" stroke-width="0.3"/>
<ellipse cx="581.3" cy="268.3" rx="1.4" ry="1.1" fill="#000"/>
<ellipse cx="534.1" cy="275.4" rx="14.5" ry="4.9" fill="#fff" stroke="#cfcfcf" stroke-width="0.7"/>
<ellipse cx="576.1" cy="276.1" rx="11.7" ry="3.8" fill="#fff" stroke="#cfcfcf" stroke-width="0.7"/>
<path d="M530.2,278.1 A5.5,5.4 0 0 0 541.2,278.1 Q535.7,278.9 530.2,278.1 Z" fill="url(#wp3)"/>
<path d="M572.8,278.5 A4.6,4.6 0 0 0 582.0,278.5 Q577.4,279.2 572.8,278.5 Z" fill="url(#wp3)"/>
<path d="M 408.34,254.48 L 397.25,216.96 L 414.73,215.51 L 436.06,237.42 Q 439.04,239.73 444.58,240.41 L 460.00,241.75 L 492.41,244.56 L 499.23,244.14 Q 504.35,240.47 511.17,238.34 Q 514.58,233.65 521.83,231.51 L 550.90,230.92 L 554.73,234.07 Q 562.41,237.91 566.84,242.17 L 567.95,242.60 Q 581.17,243.20 592.69,245.59 L 593.28,246.61 L 593.54,253.43 L 594.99,254.12 Q 593.54,260.09 588.85,263.50 Q 582.88,267.76 570.09,269.04 Q 555.59,270.15 538.53,269.04 L 528.23,267.76 L 460.00,261.79 L 410.04,255.76 Z" fill="#fff" stroke="#9c9c9c" stroke-width="0.5" stroke-linejoin="round"/>
<path d="M399.04,222.33 C401.09,223.57 407.14,227.37 411.32,229.75 C415.50,232.12 420.28,234.72 424.12,236.57 C427.95,238.42 430.94,239.80 434.35,240.84 C437.76,241.87 441.46,242.36 444.58,242.80 C447.71,243.24 451.69,243.37 453.11,243.48 L453.11,243.99 C451.69,243.96 447.71,243.99 444.58,243.82 C441.46,243.65 437.76,243.52 434.35,242.97 C430.94,242.41 427.95,241.83 424.12,240.49 C420.28,239.16 415.10,236.70 411.32,234.95 C407.54,233.20 403.08,230.83 401.43,230.00 Z" fill="url(#f1p3)"/>
<path d="M402.28,230.86 C403.79,231.62 407.68,233.76 411.32,235.46 C414.96,237.17 419.85,239.70 424.12,241.09 C428.38,242.48 431.79,243.21 436.91,243.82 C442.03,244.43 450.41,244.57 454.82,244.76 C459.23,244.94 461.93,244.90 463.35,244.93 L463.35,245.36 C461.93,245.36 459.23,245.43 454.82,245.36 C450.41,245.29 442.03,245.30 436.91,244.93 C431.79,244.56 428.38,244.15 424.12,243.14 C419.85,242.13 414.72,240.15 411.32,238.87 C407.92,237.59 405.00,236.03 403.73,235.46 Z" fill="url(#f2p3)"/>
<path d="M404.50,237.85 C405.64,238.38 408.76,240.01 411.32,241.01 C413.88,242.00 416.30,243.11 419.85,243.82 C423.40,244.53 430.51,245.03 432.64,245.27 L432.64,245.78 C430.51,245.75 423.40,245.84 419.85,245.61 C416.30,245.38 413.60,244.83 411.32,244.42 C409.05,244.01 407.06,243.35 406.20,243.14 Z" fill="url(#f3p3)"/>
<path d="M 410.30,217.64 L 405.78,220.37 L 422.84,249.79" fill="none" stroke="#3c3c3c" stroke-width="0.6" stroke-linejoin="round"/>
<path d="M 396.82,216.19 L 411.32,214.57 L 413.37,215.51 L 410.47,216.61 L 397.68,217.21 Z" fill="#000"/>
<circle cx="412.17" cy="214.40" r="0.95" fill="#f01818"/>
<path d="M 422.84,249.79 Q 441.17,246.55 470.17,244.50" fill="none" stroke="#d0d0d0" stroke-width="0.5"/>
<path d="M 409.45,251.84 L 444.16,250.13 L 460.00,250.70 L 514.58,250.70 Q 516.29,250.87 516.46,253.94 L 567.95,253.26 L 568.55,255.39 L 594.99,254.03 Q 593.54,260.09 588.85,263.50 Q 582.88,267.76 570.09,269.04 Q 555.59,270.15 538.53,269.04 L 528.23,267.76 L 460.00,261.79 L 410.04,255.76 Z" fill="#1884f8"/>
<path d="M425.40,255.30 C431.17,255.37 449.23,255.60 460.00,255.70 C470.77,255.80 480.67,255.88 490.00,255.90 C499.33,255.92 511.67,255.82 516.00,255.80" fill="none" stroke="#a4c8ff" stroke-width="1.1"/>
<path d="M516.00,255.75 C520.00,255.71 531.33,255.67 540.00,255.50 C548.67,255.33 563.08,254.78 568.00,254.75 C572.92,254.72 569.25,255.21 569.50,255.30" fill="none" stroke="#eef2ff" stroke-width="1.3"/>
<path d="M425.40,252.80 C431.17,252.87 449.23,253.10 460.00,253.20 C470.77,253.30 480.67,253.38 490.00,253.40 C499.33,253.42 507.67,253.37 516.00,253.30 C524.33,253.23 531.33,253.15 540.00,253.00 C548.67,252.85 563.33,252.50 568.00,252.40 L568.00,253.70 C563.33,253.87 548.67,254.47 540.00,254.70 C531.33,254.92 524.33,254.98 516.00,255.05 C507.67,255.12 499.33,255.17 490.00,255.15 C480.67,255.13 470.77,255.05 460.00,254.95 C449.23,254.85 431.17,254.62 425.40,254.55 Z" fill="#0014f0"/>
<path d="M 423.26,251.33 L 423.43,258.49" fill="none" stroke="#d8e6ff" stroke-width="0.5"/>
<path d="M 567.95,242.60 Q 568.55,249.85 569.40,255.82 Q 572.64,260.94 572.64,268.44" fill="none" stroke="#5a5a6a" stroke-opacity="0.55" stroke-width="0.45"/>
<path d="M 592.69,245.59 Q 590.98,249.85 591.58,254.29 Q 590.98,260.09 588.85,263.50" fill="none" stroke="#777" stroke-opacity="0.5" stroke-width="0.45"/>
<path d="M 569.40,250.87 Q 581.17,249.42 591.41,250.53" fill="none" stroke="#bbb" stroke-width="0.45"/>
<ellipse cx="425.82" cy="250.13" rx="16.8" ry="1.05" fill="#fff" stroke="#a8a8a8" stroke-width="0.45"/>
<path d="M 430.94,249.62 L 442.20,249.62 L 441.68,250.64 L 430.94,250.64 Z" fill="#d9d9d9"/>
<text x="447.7" y="257.5" font-family="'DejaVu Sans', Verdana, sans-serif" font-size="8.9" font-weight="bold" font-style="italic" fill="#e6e6e6" fill-opacity="0.9" stroke="#7a7a7a" stroke-opacity="0.8" stroke-width="0.3" paint-order="stroke">N5176V</text>
<path d="M 503.67,249.42 L 512.20,249.42 Q 513.39,249.59 513.39,250.87 L 513.39,263.67 Q 513.22,265.20 512.03,265.20 L 503.84,265.20 Q 502.64,265.03 502.64,263.67 L 502.64,250.87 Q 502.64,249.59 503.67,249.42 Z" fill="none" stroke="#203060" stroke-opacity="0.6" stroke-width="0.5"/>
<rect x="503.67" y="259.06" width="2.5" height="1.0" fill="#000"/>
<path d="M 528.66,240.47 L 528.66,260.94 Q 528.91,264.35 532.49,264.69 L 551.32,266.06" fill="none" stroke="#304070" stroke-opacity="0.55" stroke-width="0.5"/>
<path d="M 528.23,238.34 L 528.23,253.26 M 529.51,238.34 L 529.51,253.26" fill="none" stroke="#b5b5b5" stroke-width="0.4"/>
<rect x="530.11" y="249.77" width="2.7" height="1.1" rx="0.4" fill="#000"/>
<path d="M 511.17,238.34 Q 515.44,234.07 521.83,231.94 L 549.19,234.67 L 548.34,238.93 L 513.30,240.30 Z" fill="#efefef"/>
<path d="M 499.23,244.14 Q 504.35,240.30 511.17,238.08 L 506.06,245.59 Q 502.22,245.59 499.23,244.14 Z" fill="#80fffc" stroke="#74d4d0" stroke-width="0.3"/>
<path d="M 527.38,240.30 L 514.58,240.30 Q 512.45,240.47 511.17,242.86 L 509.21,246.01 Q 508.78,247.46 511.17,247.80 L 527.21,248.66 Z" fill="#80fffc" stroke="#74d4d0" stroke-width="0.3"/>
<path d="M 530.11,239.62 L 548.17,239.10 L 550.47,246.95 L 530.11,247.46 Z" fill="#80fffc" stroke="#74d4d0" stroke-width="0.3"/>
<path d="M 551.49,235.01 L 554.73,233.99 Q 562.41,237.48 566.67,242.00 Q 564.12,245.16 559.85,246.10 L 554.05,246.61 Z" fill="#80fffc"/>
<path d="M 560.53,242.35 L 566.67,242.00 Q 564.54,244.73 562.84,245.33 L 560.87,244.73 Z" fill="#188a86"/>
<path d="M 554.05,246.70 L 559.85,246.18 Q 564.12,245.25 566.76,242.09" fill="none" stroke="#0a2020" stroke-width="0.55"/>
<path d="M 511.17,238.34 Q 514.58,233.65 521.58,231.26 Q 536.82,228.10 550.90,229.55 Q 553.45,231.51 552.60,235.35 Q 551.32,236.38 549.19,235.86 L 523.11,237.06 Z" fill="#fff" stroke="#a8a8a8" stroke-width="0.45"/>
<path d="M522.2,231.5 Q536,229.9 550.0,229.95 Q550.9,231.2 550.2,232.5 Q536,233.1 523.0,233.75 Q521.7,232.7 522.2,231.5 Z" fill="#1884f8"/>
<path d="M 523.11,237.06 L 548.34,236.72" fill="none" stroke="#c4c4c4" stroke-width="0.9"/>
<circle cx="544.93" cy="231.51" r="0.85" fill="#18c828"/>
<path d="M 548.93,234.67 L 551.49,234.50 L 557.12,266.48 L 554.31,266.65 Z" fill="#fff" stroke="#b0b0b0" stroke-width="0.4"/>
<path d="M 550.90,266.48 L 557.97,266.31 L 558.14,267.93 L 550.72,267.93 Z" fill="#1470d8"/>
<path d="M 529.19,266.32 L 535.72,265.94 L 535.91,267.96 L 534.47,268.44 L 535.14,270.83 L 532.26,270.83 L 532.26,268.44 L 529.39,268.24 Z" fill="#fff" stroke="#cfcfcf" stroke-width="0.4"/>
<ellipse cx="597.3" cy="237.6" rx="1.45" ry="11.2" fill="#000"/>
<ellipse cx="597.95" cy="262.4" rx="1.45" ry="11.2" fill="#000"/>
<path d="M593.2,248.5 Q594,247 595.9,246.7 L596.3,253.0 Q594.4,253.0 593.5,252.2 Q592.9,250.4 593.2,248.5 Z" fill="#000"/>
<path d="M595.9,246.6 Q601.5,247.0 606.3,249.5 Q601.5,252.3 596.1,253.0 Q595.0,249.8 595.9,246.6 Z" fill="#fff" stroke="#bdbdbd" stroke-width="0.4"/>
</g>
</g>
<g transform="translate(10,426)">
<rect x="384" y="172" width="248.7" height="123.8" fill="#fff"/>
<rect x="637.2" y="172" width="248.9" height="123.8" fill="#fff"/>
<path d="M384.5,172 V295.9" fill="none" stroke="#000" stroke-opacity="0.56" stroke-width="1.0"/>
<path d="M384,172.5 H632.5" fill="none" stroke="#000" stroke-opacity="0.56" stroke-width="1.0"/>
<path d="M384,295.4 H632.5" fill="none" stroke="#000" stroke-opacity="0.56" stroke-width="1.0"/>
<path d="M632.0,172 V295.9" fill="none" stroke="#000" stroke-opacity="0.56" stroke-width="1.05"/>
<path d="M638.0,172 V295.9" fill="none" stroke="#000" stroke-opacity="0.56" stroke-width="1.05"/>
<path d="M637.5,172.5 H886" fill="none" stroke="#000" stroke-opacity="0.56" stroke-width="1.0"/>
<path d="M637.5,295.4 H886" fill="none" stroke="#000" stroke-opacity="0.56" stroke-width="1.0"/>
<path d="M885.5,172 V295.9" fill="none" stroke="#000" stroke-opacity="0.56" stroke-width="1.0"/>
<text x="477.5" y="193.2" font-family="'DejaVu Sans', Verdana, sans-serif" font-size="19" fill="#111">Case A</text>
<text x="731.3" y="192.7" font-family="'DejaVu Sans', Verdana, sans-serif" font-size="19" fill="#111">Case B</text>
<g>
<linearGradient id="f1qa" gradientUnits="userSpaceOnUse" x1="437" y1="0" x2="452" y2="0"><stop offset="0" stop-color="#1884f8"/><stop offset="1" stop-color="#1884f8" stop-opacity="0"/></linearGradient>
<linearGradient id="f2qa" gradientUnits="userSpaceOnUse" x1="441" y1="0" x2="461" y2="0"><stop offset="0" stop-color="#0014f0"/><stop offset="1" stop-color="#0014f0" stop-opacity="0"/></linearGradient>
<linearGradient id="f3qa" gradientUnits="userSpaceOnUse" x1="420" y1="0" x2="432" y2="0"><stop offset="0" stop-color="#1884f8"/><stop offset="1" stop-color="#1884f8" stop-opacity="0"/></linearGradient>
<radialGradient id="wqa" cx="0.5" cy="0.05" r="0.55"><stop offset="0" stop-color="#c8c8c8"/><stop offset="0.5" stop-color="#444"/><stop offset="1" stop-color="#000"/></radialGradient>
<ellipse cx="535.7" cy="278.4" rx="5.5" ry="5.1" fill="url(#wqa)"/>
<ellipse cx="577.4" cy="278.8" rx="4.6" ry="4.3" fill="url(#wqa)"/>
<path d="M574.6,268.8 L577.2,268.8 L578.3,272.6 L573.2,272.6 Z" fill="#c9c9c9" stroke="#999" stroke-width="0.3"/>
<ellipse cx="581.3" cy="268.3" rx="1.4" ry="1.1" fill="#000"/>
<ellipse cx="534.1" cy="275.4" rx="14.5" ry="4.9" fill="#fff" stroke="#cfcfcf" stroke-width="0.7"/>
<ellipse cx="576.1" cy="276.1" rx="11.7" ry="3.8" fill="#fff" stroke="#cfcfcf" stroke-width="0.7"/>
<path d="M530.2,278.1 A5.5,5.4 0 0 0 541.2,278.1 Q535.7,278.9 530.2,278.1 Z" fill="url(#wqa)"/>
<path d="M572.8,278.5 A4.6,4.6 0 0 0 582.0,278.5 Q577.4,279.2 572.8,278.5 Z" fill="url(#wqa)"/>
<path d="M 408.34,254.48 L 397.25,216.96 L 414.73,215.51 L 436.06,237.42 Q 439.04,239.73 444.58,240.41 L 460.00,241.75 L 492.41,244.56 L 499.23,244.14 Q 504.35,240.47 511.17,238.34 Q 514.58,233.65 521.83,231.51 L 550.90,230.92 L 554.73,234.07 Q 562.41,237.91 566.84,242.17 L 567.95,242.60 Q 581.17,243.20 592.69,245.59 L 593.28,246.61 L 593.54,253.43 L 594.99,254.12 Q 593.54,260.09 588.85,263.50 Q 582.88,267.76 570.09,269.04 Q 555.59,270.15 538.53,269.04 L 528.23,267.76 L 460.00,261.79 L 410.04,255.76 Z" fill="#fff" stroke="#9c9c9c" stroke-width="0.5" stroke-linejoin="round"/>
<path d="M399.04,222.33 C401.09,223.57 407.14,227.37 411.32,229.75 C415.50,232.12 420.28,234.72 424.12,236.57 C427.95,238.42 430.94,239.80 434.35,240.84 C437.76,241.87 441.46,242.36 444.58,242.80 C447.71,243.24 451.69,243.37 453.11,243.48 L453.11,243.99 C451.69,243.96 447.71,243.99 444.58,243.82 C441.46,243.65 437.76,243.52 434.35,242.97 C430.94,242.41 427.95,241.83 424.12,240.49 C420.28,239.16 415.10,236.70 411.32,234.95 C407.54,233.20 403.08,230.83 401.43,230.00 Z" fill="url(#f1qa)"/>
<path d="M402.28,230.86 C403.79,231.62 407.68,233.76 411.32,235.46 C414.96,237.17 419.85,239.70 424.12,241.09 C428.38,242.48 431.79,243.21 436.91,243.82 C442.03,244.43 450.41,244.57 454.82,244.76 C459.23,244.94 461.93,244.90 463.35,244.93 L463.35,245.36 C461.93,245.36 459.23,245.43 454.82,245.36 C450.41,245.29 442.03,245.30 436.91,244.93 C431.79,244.56 428.38,244.15 424.12,243.14 C419.85,242.13 414.72,240.15 411.32,238.87 C407.92,237.59 405.00,236.03 403.73,235.46 Z" fill="url(#f2qa)"/>
<path d="M404.50,237.85 C405.64,238.38 408.76,240.01 411.32,241.01 C413.88,242.00 416.30,243.11 419.85,243.82 C423.40,244.53 430.51,245.03 432.64,245.27 L432.64,245.78 C430.51,245.75 423.40,245.84 419.85,245.61 C416.30,245.38 413.60,244.83 411.32,244.42 C409.05,244.01 407.06,243.35 406.20,243.14 Z" fill="url(#f3qa)"/>
<path d="M 410.30,217.64 L 405.78,220.37 L 422.84,249.79" fill="none" stroke="#3c3c3c" stroke-width="0.6" stroke-linejoin="round"/>
<path d="M 396.82,216.19 L 411.32,214.57 L 413.37,215.51 L 410.47,216.61 L 397.68,217.21 Z" fill="#000"/>
<circle cx="412.17" cy="214.40" r="0.95" fill="#f01818"/>
<path d="M 422.84,249.79 Q 441.17,246.55 470.17,244.50" fill="none" stroke="#d0d0d0" stroke-width="0.5"/>
<path d="M 409.45,251.84 L 444.16,250.13 L 460.00,250.70 L 514.58,250.70 Q 516.29,250.87 516.46,253.94 L 567.95,253.26 L 568.55,255.39 L 594.99,254.03 Q 593.54,260.09 588.85,263.50 Q 582.88,267.76 570.09,269.04 Q 555.59,270.15 538.53,269.04 L 528.23,267.76 L 460.00,261.79 L 410.04,255.76 Z" fill="#1884f8"/>
<path d="M425.40,255.30 C431.17,255.37 449.23,255.60 460.00,255.70 C470.77,255.80 480.67,255.88 490.00,255.90 C499.33,255.92 511.67,255.82 516.00,255.80" fill="none" stroke="#a4c8ff" stroke-width="1.1"/>
<path d="M516.00,255.75 C520.00,255.71 531.33,255.67 540.00,255.50 C548.67,255.33 563.08,254.78 568.00,254.75 C572.92,254.72 569.25,255.21 569.50,255.30" fill="none" stroke="#eef2ff" stroke-width="1.3"/>
<path d="M425.40,252.80 C431.17,252.87 449.23,253.10 460.00,253.20 C470.77,253.30 480.67,253.38 490.00,253.40 C499.33,253.42 507.67,253.37 516.00,253.30 C524.33,253.23 531.33,253.15 540.00,253.00 C548.67,252.85 563.33,252.50 568.00,252.40 L568.00,253.70 C563.33,253.87 548.67,254.47 540.00,254.70 C531.33,254.92 524.33,254.98 516.00,255.05 C507.67,255.12 499.33,255.17 490.00,255.15 C480.67,255.13 470.77,255.05 460.00,254.95 C449.23,254.85 431.17,254.62 425.40,254.55 Z" fill="#0014f0"/>
<path d="M 423.26,251.33 L 423.43,258.49" fill="none" stroke="#d8e6ff" stroke-width="0.5"/>
<path d="M 567.95,242.60 Q 568.55,249.85 569.40,255.82 Q 572.64,260.94 572.64,268.44" fill="none" stroke="#5a5a6a" stroke-opacity="0.55" stroke-width="0.45"/>
<path d="M 592.69,245.59 Q 590.98,249.85 591.58,254.29 Q 590.98,260.09 588.85,263.50" fill="none" stroke="#777" stroke-opacity="0.5" stroke-width="0.45"/>
<path d="M 569.40,250.87 Q 581.17,249.42 591.41,250.53" fill="none" stroke="#bbb" stroke-width="0.45"/>
<ellipse cx="425.82" cy="250.13" rx="16.8" ry="1.05" fill="#fff" stroke="#a8a8a8" stroke-width="0.45"/>
<path d="M 430.94,249.62 L 442.20,249.62 L 441.68,250.64 L 430.94,250.64 Z" fill="#d9d9d9"/>
<text x="447.7" y="257.5" font-family="'DejaVu Sans', Verdana, sans-serif" font-size="8.9" font-weight="bold" font-style="italic" fill="#e6e6e6" fill-opacity="0.9" stroke="#7a7a7a" stroke-opacity="0.8" stroke-width="0.3" paint-order="stroke">N5176V</text>
<path d="M 503.67,249.42 L 512.20,249.42 Q 513.39,249.59 513.39,250.87 L 513.39,263.67 Q 513.22,265.20 512.03,265.20 L 503.84,265.20 Q 502.64,265.03 502.64,263.67 L 502.64,250.87 Q 502.64,249.59 503.67,249.42 Z" fill="none" stroke="#203060" stroke-opacity="0.6" stroke-width="0.5"/>
<rect x="503.67" y="259.06" width="2.5" height="1.0" fill="#000"/>
<path d="M 528.66,240.47 L 528.66,260.94 Q 528.91,264.35 532.49,264.69 L 551.32,266.06" fill="none" stroke="#304070" stroke-opacity="0.55" stroke-width="0.5"/>
<path d="M 528.23,238.34 L 528.23,253.26 M 529.51,238.34 L 529.51,253.26" fill="none" stroke="#b5b5b5" stroke-width="0.4"/>
<rect x="530.11" y="249.77" width="2.7" height="1.1" rx="0.4" fill="#000"/>
<path d="M 511.17,238.34 Q 515.44,234.07 521.83,231.94 L 549.19,234.67 L 548.34,238.93 L 513.30,240.30 Z" fill="#efefef"/>
<path d="M 499.23,244.14 Q 504.35,240.30 511.17,238.08 L 506.06,245.59 Q 502.22,245.59 499.23,244.14 Z" fill="#80fffc" stroke="#74d4d0" stroke-width="0.3"/>
<path d="M 527.38,240.30 L 514.58,240.30 Q 512.45,240.47 511.17,242.86 L 509.21,246.01 Q 508.78,247.46 511.17,247.80 L 527.21,248.66 Z" fill="#80fffc" stroke="#74d4d0" stroke-width="0.3"/>
<path d="M 530.11,239.62 L 548.17,239.10 L 550.47,246.95 L 530.11,247.46 Z" fill="#80fffc" stroke="#74d4d0" stroke-width="0.3"/>
<path d="M 551.49,235.01 L 554.73,233.99 Q 562.41,237.48 566.67,242.00 Q 564.12,245.16 559.85,246.10 L 554.05,246.61 Z" fill="#80fffc"/>
<path d="M 560.53,242.35 L 566.67,242.00 Q 564.54,244.73 562.84,245.33 L 560.87,244.73 Z" fill="#188a86"/>
<path d="M 554.05,246.70 L 559.85,246.18 Q 564.12,245.25 566.76,242.09" fill="none" stroke="#0a2020" stroke-width="0.55"/>
<path d="M 511.17,238.34 Q 514.58,233.65 521.58,231.26 Q 536.82,228.10 550.90,229.55 Q 553.45,231.51 552.60,235.35 Q 551.32,236.38 549.19,235.86 L 523.11,237.06 Z" fill="#fff" stroke="#a8a8a8" stroke-width="0.45"/>
<path d="M522.2,231.5 Q536,229.9 550.0,229.95 Q550.9,231.2 550.2,232.5 Q536,233.1 523.0,233.75 Q521.7,232.7 522.2,231.5 Z" fill="#1884f8"/>
<path d="M 523.11,237.06 L 548.34,236.72" fill="none" stroke="#c4c4c4" stroke-width="0.9"/>
<circle cx="544.93" cy="231.51" r="0.85" fill="#18c828"/>
<path d="M 548.93,234.67 L 551.49,234.50 L 557.12,266.48 L 554.31,266.65 Z" fill="#fff" stroke="#b0b0b0" stroke-width="0.4"/>
<path d="M 550.90,266.48 L 557.97,266.31 L 558.14,267.93 L 550.72,267.93 Z" fill="#1470d8"/>
<path d="M 529.19,266.32 L 535.72,265.94 L 535.91,267.96 L 534.47,268.44 L 535.14,270.83 L 532.26,270.83 L 532.26,268.44 L 529.39,268.24 Z" fill="#fff" stroke="#cfcfcf" stroke-width="0.4"/>
<ellipse cx="597.3" cy="237.6" rx="1.45" ry="11.2" fill="#000"/>
<ellipse cx="597.95" cy="262.4" rx="1.45" ry="11.2" fill="#000"/>
<path d="M593.2,248.5 Q594,247 595.9,246.7 L596.3,253.0 Q594.4,253.0 593.5,252.2 Q592.9,250.4 593.2,248.5 Z" fill="#000"/>
<path d="M595.9,246.6 Q601.5,247.0 606.3,249.5 Q601.5,252.3 596.1,253.0 Q595.0,249.8 595.9,246.6 Z" fill="#fff" stroke="#bdbdbd" stroke-width="0.4"/>
</g>
<g transform="translate(449.80,98.35) scale(0.5)">
<linearGradient id="f1q0" gradientUnits="userSpaceOnUse" x1="437" y1="0" x2="452" y2="0"><stop offset="0" stop-color="#1884f8"/><stop offset="1" stop-color="#1884f8" stop-opacity="0"/></linearGradient>
<linearGradient id="f2q0" gradientUnits="userSpaceOnUse" x1="441" y1="0" x2="461" y2="0"><stop offset="0" stop-color="#0014f0"/><stop offset="1" stop-color="#0014f0" stop-opacity="0"/></linearGradient>
<linearGradient id="f3q0" gradientUnits="userSpaceOnUse" x1="420" y1="0" x2="432" y2="0"><stop offset="0" stop-color="#1884f8"/><stop offset="1" stop-color="#1884f8" stop-opacity="0"/></linearGradient>
<radialGradient id="wq0" cx="0.5" cy="0.05" r="0.55"><stop offset="0" stop-color="#c8c8c8"/><stop offset="0.5" stop-color="#444"/><stop offset="1" stop-color="#000"/></radialGradient>
<ellipse cx="535.7" cy="278.4" rx="5.5" ry="5.1" fill="url(#wq0)"/>
<ellipse cx="577.4" cy="278.8" rx="4.6" ry="4.3" fill="url(#wq0)"/>
<path d="M574.6,268.8 L577.2,268.8 L578.3,272.6 L573.2,272.6 Z" fill="#c9c9c9" stroke="#999" stroke-width="0.3"/>
<ellipse cx="581.3" cy="268.3" rx="1.4" ry="1.1" fill="#000"/>
<ellipse cx="534.1" cy="275.4" rx="14.5" ry="4.9" fill="#fff" stroke="#cfcfcf" stroke-width="0.7"/>
<ellipse cx="576.1" cy="276.1" rx="11.7" ry="3.8" fill="#fff" stroke="#cfcfcf" stroke-width="0.7"/>
<path d="M530.2,278.1 A5.5,5.4 0 0 0 541.2,278.1 Q535.7,278.9 530.2,278.1 Z" fill="url(#wq0)"/>
<path d="M572.8,278.5 A4.6,4.6 0 0 0 582.0,278.5 Q577.4,279.2 572.8,278.5 Z" fill="url(#wq0)"/>
<path d="M 408.34,254.48 L 397.25,216.96 L 414.73,215.51 L 436.06,237.42 Q 439.04,239.73 444.58,240.41 L 460.00,241.75 L 492.41,244.56 L 499.23,244.14 Q 504.35,240.47 511.17,238.34 Q 514.58,233.65 521.83,231.51 L 550.90,230.92 L 554.73,234.07 Q 562.41,237.91 566.84,242.17 L 567.95,242.60 Q 581.17,243.20 592.69,245.59 L 593.28,246.61 L 593.54,253.43 L 594.99,254.12 Q 593.54,260.09 588.85,263.50 Q 582.88,267.76 570.09,269.04 Q 555.59,270.15 538.53,269.04 L 528.23,267.76 L 460.00,261.79 L 410.04,255.76 Z" fill="#fff" stroke="#9c9c9c" stroke-width="0.5" stroke-linejoin="round"/>
<path d="M399.04,222.33 C401.09,223.57 407.14,227.37 411.32,229.75 C415.50,232.12 420.28,234.72 424.12,236.57 C427.95,238.42 430.94,239.80 434.35,240.84 C437.76,241.87 441.46,242.36 444.58,242.80 C447.71,243.24 451.69,243.37 453.11,243.48 L453.11,243.99 C451.69,243.96 447.71,243.99 444.58,243.82 C441.46,243.65 437.76,243.52 434.35,242.97 C430.94,242.41 427.95,241.83 424.12,240.49 C420.28,239.16 415.10,236.70 411.32,234.95 C407.54,233.20 403.08,230.83 401.43,230.00 Z" fill="url(#f1q0)"/>
<path d="M402.28,230.86 C403.79,231.62 407.68,233.76 411.32,235.46 C414.96,237.17 419.85,239.70 424.12,241.09 C428.38,242.48 431.79,243.21 436.91,243.82 C442.03,244.43 450.41,244.57 454.82,244.76 C459.23,244.94 461.93,244.90 463.35,244.93 L463.35,245.36 C461.93,245.36 459.23,245.43 454.82,245.36 C450.41,245.29 442.03,245.30 436.91,244.93 C431.79,244.56 428.38,244.15 424.12,243.14 C419.85,242.13 414.72,240.15 411.32,238.87 C407.92,237.59 405.00,236.03 403.73,235.46 Z" fill="url(#f2q0)"/>
<path d="M404.50,237.85 C405.64,238.38 408.76,240.01 411.32,241.01 C413.88,242.00 416.30,243.11 419.85,243.82 C423.40,244.53 430.51,245.03 432.64,245.27 L432.64,245.78 C430.51,245.75 423.40,245.84 419.85,245.61 C416.30,245.38 413.60,244.83 411.32,244.42 C409.05,244.01 407.06,243.35 406.20,243.14 Z" fill="url(#f3q0)"/>
<path d="M 410.30,217.64 L 405.78,220.37 L 422.84,249.79" fill="none" stroke="#3c3c3c" stroke-width="0.6" stroke-linejoin="round"/>
<path d="M 396.82,216.19 L 411.32,214.57 L 413.37,215.51 L 410.47,216.61 L 397.68,217.21 Z" fill="#000"/>
<circle cx="412.17" cy="214.40" r="0.95" fill="#f01818"/>
<path d="M 422.84,249.79 Q 441.17,246.55 470.17,244.50" fill="none" stroke="#d0d0d0" stroke-width="0.5"/>
<path d="M 409.45,251.84 L 444.16,250.13 L 460.00,250.70 L 514.58,250.70 Q 516.29,250.87 516.46,253.94 L 567.95,253.26 L 568.55,255.39 L 594.99,254.03 Q 593.54,260.09 588.85,263.50 Q 582.88,267.76 570.09,269.04 Q 555.59,270.15 538.53,269.04 L 528.23,267.76 L 460.00,261.79 L 410.04,255.76 Z" fill="#1884f8"/>
<path d="M425.40,255.30 C431.17,255.37 449.23,255.60 460.00,255.70 C470.77,255.80 480.67,255.88 490.00,255.90 C499.33,255.92 511.67,255.82 516.00,255.80" fill="none" stroke="#a4c8ff" stroke-width="1.1"/>
<path d="M516.00,255.75 C520.00,255.71 531.33,255.67 540.00,255.50 C548.67,255.33 563.08,254.78 568.00,254.75 C572.92,254.72 569.25,255.21 569.50,255.30" fill="none" stroke="#eef2ff" stroke-width="1.3"/>
<path d="M425.40,252.80 C431.17,252.87 449.23,253.10 460.00,253.20 C470.77,253.30 480.67,253.38 490.00,253.40 C499.33,253.42 507.67,253.37 516.00,253.30 C524.33,253.23 531.33,253.15 540.00,253.00 C548.67,252.85 563.33,252.50 568.00,252.40 L568.00,253.70 C563.33,253.87 548.67,254.47 540.00,254.70 C531.33,254.92 524.33,254.98 516.00,255.05 C507.67,255.12 499.33,255.17 490.00,255.15 C480.67,255.13 470.77,255.05 460.00,254.95 C449.23,254.85 431.17,254.62 425.40,254.55 Z" fill="#0014f0"/>
<path d="M 423.26,251.33 L 423.43,258.49" fill="none" stroke="#d8e6ff" stroke-width="0.5"/>
<path d="M 567.95,242.60 Q 568.55,249.85 569.40,255.82 Q 572.64,260.94 572.64,268.44" fill="none" stroke="#5a5a6a" stroke-opacity="0.55" stroke-width="0.45"/>
<path d="M 592.69,245.59 Q 590.98,249.85 591.58,254.29 Q 590.98,260.09 588.85,263.50" fill="none" stroke="#777" stroke-opacity="0.5" stroke-width="0.45"/>
<path d="M 569.40,250.87 Q 581.17,249.42 591.41,250.53" fill="none" stroke="#bbb" stroke-width="0.45"/>
<ellipse cx="425.82" cy="250.13" rx="16.8" ry="1.05" fill="#fff" stroke="#a8a8a8" stroke-width="0.45"/>
<path d="M 430.94,249.62 L 442.20,249.62 L 441.68,250.64 L 430.94,250.64 Z" fill="#d9d9d9"/>
<text x="447.7" y="257.5" font-family="'DejaVu Sans', Verdana, sans-serif" font-size="8.9" font-weight="bold" font-style="italic" fill="#e6e6e6" fill-opacity="0.9" stroke="#7a7a7a" stroke-opacity="0.8" stroke-width="0.3" paint-order="stroke">N5176V</text>
<path d="M 503.67,249.42 L 512.20,249.42 Q 513.39,249.59 513.39,250.87 L 513.39,263.67 Q 513.22,265.20 512.03,265.20 L 503.84,265.20 Q 502.64,265.03 502.64,263.67 L 502.64,250.87 Q 502.64,249.59 503.67,249.42 Z" fill="none" stroke="#203060" stroke-opacity="0.6" stroke-width="0.5"/>
<rect x="503.67" y="259.06" width="2.5" height="1.0" fill="#000"/>
<path d="M 528.66,240.47 L 528.66,260.94 Q 528.91,264.35 532.49,264.69 L 551.32,266.06" fill="none" stroke="#304070" stroke-opacity="0.55" stroke-width="0.5"/>
<path d="M 528.23,238.34 L 528.23,253.26 M 529.51,238.34 L 529.51,253.26" fill="none" stroke="#b5b5b5" stroke-width="0.4"/>
<rect x="530.11" y="249.77" width="2.7" height="1.1" rx="0.4" fill="#000"/>
<path d="M 511.17,238.34 Q 515.44,234.07 521.83,231.94 L 549.19,234.67 L 548.34,238.93 L 513.30,240.30 Z" fill="#efefef"/>
<path d="M 499.23,244.14 Q 504.35,240.30 511.17,238.08 L 506.06,245.59 Q 502.22,245.59 499.23,244.14 Z" fill="#80fffc" stroke="#74d4d0" stroke-width="0.3"/>
<path d="M 527.38,240.30 L 514.58,240.30 Q 512.45,240.47 511.17,242.86 L 509.21,246.01 Q 508.78,247.46 511.17,247.80 L 527.21,248.66 Z" fill="#80fffc" stroke="#74d4d0" stroke-width="0.3"/>
<path d="M 530.11,239.62 L 548.17,239.10 L 550.47,246.95 L 530.11,247.46 Z" fill="#80fffc" stroke="#74d4d0" stroke-width="0.3"/>
<path d="M 551.49,235.01 L 554.73,233.99 Q 562.41,237.48 566.67,242.00 Q 564.12,245.16 559.85,246.10 L 554.05,246.61 Z" fill="#80fffc"/>
<path d="M 560.53,242.35 L 566.67,242.00 Q 564.54,244.73 562.84,245.33 L 560.87,244.73 Z" fill="#188a86"/>
<path d="M 554.05,246.70 L 559.85,246.18 Q 564.12,245.25 566.76,242.09" fill="none" stroke="#0a2020" stroke-width="0.55"/>
<path d="M 511.17,238.34 Q 514.58,233.65 521.58,231.26 Q 536.82,228.10 550.90,229.55 Q 553.45,231.51 552.60,235.35 Q 551.32,236.38 549.19,235.86 L 523.11,237.06 Z" fill="#fff" stroke="#a8a8a8" stroke-width="0.45"/>
<path d="M522.2,231.5 Q536,229.9 550.0,229.95 Q550.9,231.2 550.2,232.5 Q536,233.1 523.0,233.75 Q521.7,232.7 522.2,231.5 Z" fill="#1884f8"/>
<path d="M 523.11,237.06 L 548.34,236.72" fill="none" stroke="#c4c4c4" stroke-width="0.9"/>
<circle cx="544.93" cy="231.51" r="0.85" fill="#18c828"/>
<path d="M 548.93,234.67 L 551.49,234.50 L 557.12,266.48 L 554.31,266.65 Z" fill="#fff" stroke="#b0b0b0" stroke-width="0.4"/>
<path d="M 550.90,266.48 L 557.97,266.31 L 558.14,267.93 L 550.72,267.93 Z" fill="#1470d8"/>
<path d="M 529.19,266.32 L 535.72,265.94 L 535.91,267.96 L 534.47,268.44 L 535.14,270.83 L 532.26,270.83 L 532.26,268.44 L 529.39,268.24 Z" fill="#fff" stroke="#cfcfcf" stroke-width="0.4"/>
<ellipse cx="597.3" cy="237.6" rx="1.45" ry="11.2" fill="#000"/>
<ellipse cx="597.95" cy="262.4" rx="1.45" ry="11.2" fill="#000"/>
<path d="M593.2,248.5 Q594,247 595.9,246.7 L596.3,253.0 Q594.4,253.0 593.5,252.2 Q592.9,250.4 593.2,248.5 Z" fill="#000"/>
<path d="M595.9,246.6 Q601.5,247.0 606.3,249.5 Q601.5,252.3 596.1,253.0 Q595.0,249.8 595.9,246.6 Z" fill="#fff" stroke="#bdbdbd" stroke-width="0.4"/>
</g>
<g transform="translate(571.50,98.35) scale(0.5)">
<linearGradient id="f1q1" gradientUnits="userSpaceOnUse" x1="437" y1="0" x2="452" y2="0"><stop offset="0" stop-color="#1884f8"/><stop offset="1" stop-color="#1884f8" stop-opacity="0"/></linearGradient>
<linearGradient id="f2q1" gradientUnits="userSpaceOnUse" x1="441" y1="0" x2="461" y2="0"><stop offset="0" stop-color="#0014f0"/><stop offset="1" stop-color="#0014f0" stop-opacity="0"/></linearGradient>
<linearGradient id="f3q1" gradientUnits="userSpaceOnUse" x1="420" y1="0" x2="432" y2="0"><stop offset="0" stop-color="#1884f8"/><stop offset="1" stop-color="#1884f8" stop-opacity="0"/></linearGradient>
<radialGradient id="wq1" cx="0.5" cy="0.05" r="0.55"><stop offset="0" stop-color="#c8c8c8"/><stop offset="0.5" stop-color="#444"/><stop offset="1" stop-color="#000"/></radialGradient>
<ellipse cx="535.7" cy="278.4" rx="5.5" ry="5.1" fill="url(#wq1)"/>
<ellipse cx="577.4" cy="278.8" rx="4.6" ry="4.3" fill="url(#wq1)"/>
<path d="M574.6,268.8 L577.2,268.8 L578.3,272.6 L573.2,272.6 Z" fill="#c9c9c9" stroke="#999" stroke-width="0.3"/>
<ellipse cx="581.3" cy="268.3" rx="1.4" ry="1.1" fill="#000"/>
<ellipse cx="534.1" cy="275.4" rx="14.5" ry="4.9" fill="#fff" stroke="#cfcfcf" stroke-width="0.7"/>
<ellipse cx="576.1" cy="276.1" rx="11.7" ry="3.8" fill="#fff" stroke="#cfcfcf" stroke-width="0.7"/>
<path d="M530.2,278.1 A5.5,5.4 0 0 0 541.2,278.1 Q535.7,278.9 530.2,278.1 Z" fill="url(#wq1)"/>
<path d="M572.8,278.5 A4.6,4.6 0 0 0 582.0,278.5 Q577.4,279.2 572.8,278.5 Z" fill="url(#wq1)"/>
<path d="M 408.34,254.48 L 397.25,216.96 L 414.73,215.51 L 436.06,237.42 Q 439.04,239.73 444.58,240.41 L 460.00,241.75 L 492.41,244.56 L 499.23,244.14 Q 504.35,240.47 511.17,238.34 Q 514.58,233.65 521.83,231.51 L 550.90,230.92 L 554.73,234.07 Q 562.41,237.91 566.84,242.17 L 567.95,242.60 Q 581.17,243.20 592.69,245.59 L 593.28,246.61 L 593.54,253.43 L 594.99,254.12 Q 593.54,260.09 588.85,263.50 Q 582.88,267.76 570.09,269.04 Q 555.59,270.15 538.53,269.04 L 528.23,267.76 L 460.00,261.79 L 410.04,255.76 Z" fill="#fff" stroke="#9c9c9c" stroke-width="0.5" stroke-linejoin="round"/>
<path d="M399.04,222.33 C401.09,223.57 407.14,227.37 411.32,229.75 C415.50,232.12 420.28,234.72 424.12,236.57 C427.95,238.42 430.94,239.80 434.35,240.84 C437.76,241.87 441.46,242.36 444.58,242.80 C447.71,243.24 451.69,243.37 453.11,243.48 L453.11,243.99 C451.69,243.96 447.71,243.99 444.58,243.82 C441.46,243.65 437.76,243.52 434.35,242.97 C430.94,242.41 427.95,241.83 424.12,240.49 C420.28,239.16 415.10,236.70 411.32,234.95 C407.54,233.20 403.08,230.83 401.43,230.00 Z" fill="url(#f1q1)"/>
<path d="M402.28,230.86 C403.79,231.62 407.68,233.76 411.32,235.46 C414.96,237.17 419.85,239.70 424.12,241.09 C428.38,242.48 431.79,243.21 436.91,243.82 C442.03,244.43 450.41,244.57 454.82,244.76 C459.23,244.94 461.93,244.90 463.35,244.93 L463.35,245.36 C461.93,245.36 459.23,245.43 454.82,245.36 C450.41,245.29 442.03,245.30 436.91,244.93 C431.79,244.56 428.38,244.15 424.12,243.14 C419.85,242.13 414.72,240.15 411.32,238.87 C407.92,237.59 405.00,236.03 403.73,235.46 Z" fill="url(#f2q1)"/>
<path d="M404.50,237.85 C405.64,238.38 408.76,240.01 411.32,241.01 C413.88,242.00 416.30,243.11 419.85,243.82 C423.40,244.53 430.51,245.03 432.64,245.27 L432.64,245.78 C430.51,245.75 423.40,245.84 419.85,245.61 C416.30,245.38 413.60,244.83 411.32,244.42 C409.05,244.01 407.06,243.35 406.20,243.14 Z" fill="url(#f3q1)"/>
<path d="M 410.30,217.64 L 405.78,220.37 L 422.84,249.79" fill="none" stroke="#3c3c3c" stroke-width="0.6" stroke-linejoin="round"/>
<path d="M 396.82,216.19 L 411.32,214.57 L 413.37,215.51 L 410.47,216.61 L 397.68,217.21 Z" fill="#000"/>
<circle cx="412.17" cy="214.40" r="0.95" fill="#f01818"/>
<path d="M 422.84,249.79 Q 441.17,246.55 470.17,244.50" fill="none" stroke="#d0d0d0" stroke-width="0.5"/>
<path d="M 409.45,251.84 L 444.16,250.13 L 460.00,250.70 L 514.58,250.70 Q 516.29,250.87 516.46,253.94 L 567.95,253.26 L 568.55,255.39 L 594.99,254.03 Q 593.54,260.09 588.85,263.50 Q 582.88,267.76 570.09,269.04 Q 555.59,270.15 538.53,269.04 L 528.23,267.76 L 460.00,261.79 L 410.04,255.76 Z" fill="#1884f8"/>
<path d="M425.40,255.30 C431.17,255.37 449.23,255.60 460.00,255.70 C470.77,255.80 480.67,255.88 490.00,255.90 C499.33,255.92 511.67,255.82 516.00,255.80" fill="none" stroke="#a4c8ff" stroke-width="1.1"/>
<path d="M516.00,255.75 C520.00,255.71 531.33,255.67 540.00,255.50 C548.67,255.33 563.08,254.78 568.00,254.75 C572.92,254.72 569.25,255.21 569.50,255.30" fill="none" stroke="#eef2ff" stroke-width="1.3"/>
<path d="M425.40,252.80 C431.17,252.87 449.23,253.10 460.00,253.20 C470.77,253.30 480.67,253.38 490.00,253.40 C499.33,253.42 507.67,253.37 516.00,253.30 C524.33,253.23 531.33,253.15 540.00,253.00 C548.67,252.85 563.33,252.50 568.00,252.40 L568.00,253.70 C563.33,253.87 548.67,254.47 540.00,254.70 C531.33,254.92 524.33,254.98 516.00,255.05 C507.67,255.12 499.33,255.17 490.00,255.15 C480.67,255.13 470.77,255.05 460.00,254.95 C449.23,254.85 431.17,254.62 425.40,254.55 Z" fill="#0014f0"/>
<path d="M 423.26,251.33 L 423.43,258.49" fill="none" stroke="#d8e6ff" stroke-width="0.5"/>
<path d="M 567.95,242.60 Q 568.55,249.85 569.40,255.82 Q 572.64,260.94 572.64,268.44" fill="none" stroke="#5a5a6a" stroke-opacity="0.55" stroke-width="0.45"/>
<path d="M 592.69,245.59 Q 590.98,249.85 591.58,254.29 Q 590.98,260.09 588.85,263.50" fill="none" stroke="#777" stroke-opacity="0.5" stroke-width="0.45"/>
<path d="M 569.40,250.87 Q 581.17,249.42 591.41,250.53" fill="none" stroke="#bbb" stroke-width="0.45"/>
<ellipse cx="425.82" cy="250.13" rx="16.8" ry="1.05" fill="#fff" stroke="#a8a8a8" stroke-width="0.45"/>
<path d="M 430.94,249.62 L 442.20,249.62 L 441.68,250.64 L 430.94,250.64 Z" fill="#d9d9d9"/>
<text x="447.7" y="257.5" font-family="'DejaVu Sans', Verdana, sans-serif" font-size="8.9" font-weight="bold" font-style="italic" fill="#e6e6e6" fill-opacity="0.9" stroke="#7a7a7a" stroke-opacity="0.8" stroke-width="0.3" paint-order="stroke">N5176V</text>
<path d="M 503.67,249.42 L 512.20,249.42 Q 513.39,249.59 513.39,250.87 L 513.39,263.67 Q 513.22,265.20 512.03,265.20 L 503.84,265.20 Q 502.64,265.03 502.64,263.67 L 502.64,250.87 Q 502.64,249.59 503.67,249.42 Z" fill="none" stroke="#203060" stroke-opacity="0.6" stroke-width="0.5"/>
<rect x="503.67" y="259.06" width="2.5" height="1.0" fill="#000"/>
<path d="M 528.66,240.47 L 528.66,260.94 Q 528.91,264.35 532.49,264.69 L 551.32,266.06" fill="none" stroke="#304070" stroke-opacity="0.55" stroke-width="0.5"/>
<path d="M 528.23,238.34 L 528.23,253.26 M 529.51,238.34 L 529.51,253.26" fill="none" stroke="#b5b5b5" stroke-width="0.4"/>
<rect x="530.11" y="249.77" width="2.7" height="1.1" rx="0.4" fill="#000"/>
<path d="M 511.17,238.34 Q 515.44,234.07 521.83,231.94 L 549.19,234.67 L 548.34,238.93 L 513.30,240.30 Z" fill="#efefef"/>
<path d="M 499.23,244.14 Q 504.35,240.30 511.17,238.08 L 506.06,245.59 Q 502.22,245.59 499.23,244.14 Z" fill="#80fffc" stroke="#74d4d0" stroke-width="0.3"/>
<path d="M 527.38,240.30 L 514.58,240.30 Q 512.45,240.47 511.17,242.86 L 509.21,246.01 Q 508.78,247.46 511.17,247.80 L 527.21,248.66 Z" fill="#80fffc" stroke="#74d4d0" stroke-width="0.3"/>
<path d="M 530.11,239.62 L 548.17,239.10 L 550.47,246.95 L 530.11,247.46 Z" fill="#80fffc" stroke="#74d4d0" stroke-width="0.3"/>
<path d="M 551.49,235.01 L 554.73,233.99 Q 562.41,237.48 566.67,242.00 Q 564.12,245.16 559.85,246.10 L 554.05,246.61 Z" fill="#80fffc"/>
<path d="M 560.53,242.35 L 566.67,242.00 Q 564.54,244.73 562.84,245.33 L 560.87,244.73 Z" fill="#188a86"/>
<path d="M 554.05,246.70 L 559.85,246.18 Q 564.12,245.25 566.76,242.09" fill="none" stroke="#0a2020" stroke-width="0.55"/>
<path d="M 511.17,238.34 Q 514.58,233.65 521.58,231.26 Q 536.82,228.10 550.90,229.55 Q 553.45,231.51 552.60,235.35 Q 551.32,236.38 549.19,235.86 L 523.11,237.06 Z" fill="#fff" stroke="#a8a8a8" stroke-width="0.45"/>
<path d="M522.2,231.5 Q536,229.9 550.0,229.95 Q550.9,231.2 550.2,232.5 Q536,233.1 523.0,233.75 Q521.7,232.7 522.2,231.5 Z" fill="#1884f8"/>
<path d="M 523.11,237.06 L 548.34,236.72" fill="none" stroke="#c4c4c4" stroke-width="0.9"/>
<circle cx="544.93" cy="231.51" r="0.85" fill="#18c828"/>
<path d="M 548.93,234.67 L 551.49,234.50 L 557.12,266.48 L 554.31,266.65 Z" fill="#fff" stroke="#b0b0b0" stroke-width="0.4"/>
<path d="M 550.90,266.48 L 557.97,266.31 L 558.14,267.93 L 550.72,267.93 Z" fill="#1470d8"/>
<path d="M 529.19,266.32 L 535.72,265.94 L 535.91,267.96 L 534.47,268.44 L 535.14,270.83 L 532.26,270.83 L 532.26,268.44 L 529.39,268.24 Z" fill="#fff" stroke="#cfcfcf" stroke-width="0.4"/>
<ellipse cx="597.3" cy="237.6" rx="1.45" ry="11.2" fill="#000"/>
<ellipse cx="597.95" cy="262.4" rx="1.45" ry="11.2" fill="#000"/>
<path d="M593.2,248.5 Q594,247 595.9,246.7 L596.3,253.0 Q594.4,253.0 593.5,252.2 Q592.9,250.4 593.2,248.5 Z" fill="#000"/>
<path d="M595.9,246.6 Q601.5,247.0 606.3,249.5 Q601.5,252.3 596.1,253.0 Q595.0,249.8 595.9,246.6 Z" fill="#fff" stroke="#bdbdbd" stroke-width="0.4"/>
</g>
<g transform="translate(449.60,144.85) scale(0.5)">
<linearGradient id="f1q2" gradientUnits="userSpaceOnUse" x1="437" y1="0" x2="452" y2="0"><stop offset="0" stop-color="#1884f8"/><stop offset="1" stop-color="#1884f8" stop-opacity="0"/></linearGradient>
<linearGradient id="f2q2" gradientUnits="userSpaceOnUse" x1="441" y1="0" x2="461" y2="0"><stop offset="0" stop-color="#0014f0"/><stop offset="1" stop-color="#0014f0" stop-opacity="0"/></linearGradient>
<linearGradient id="f3q2" gradientUnits="userSpaceOnUse" x1="420" y1="0" x2="432" y2="0"><stop offset="0" stop-color="#1884f8"/><stop offset="1" stop-color="#1884f8" stop-opacity="0"/></linearGradient>
<radialGradient id="wq2" cx="0.5" cy="0.05" r="0.55"><stop offset="0" stop-color="#c8c8c8"/><stop offset="0.5" stop-color="#444"/><stop offset="1" stop-color="#000"/></radialGradient>
<ellipse cx="535.7" cy="278.4" rx="5.5" ry="5.1" fill="url(#wq2)"/>
<ellipse cx="577.4" cy="278.8" rx="4.6" ry="4.3" fill="url(#wq2)"/>
<path d="M574.6,268.8 L577.2,268.8 L578.3,272.6 L573.2,272.6 Z" fill="#c9c9c9" stroke="#999" stroke-width="0.3"/>
<ellipse cx="581.3" cy="268.3" rx="1.4" ry="1.1" fill="#000"/>
<ellipse cx="534.1" cy="275.4" rx="14.5" ry="4.9" fill="#fff" stroke="#cfcfcf" stroke-width="0.7"/>
<ellipse cx="576.1" cy="276.1" rx="11.7" ry="3.8" fill="#fff" stroke="#cfcfcf" stroke-width="0.7"/>
<path d="M530.2,278.1 A5.5,5.4 0 0 0 541.2,278.1 Q535.7,278.9 530.2,278.1 Z" fill="url(#wq2)"/>
<path d="M572.8,278.5 A4.6,4.6 0 0 0 582.0,278.5 Q577.4,279.2 572.8,278.5 Z" fill="url(#wq2)"/>
<path d="M 408.34,254.48 L 397.25,216.96 L 414.73,215.51 L 436.06,237.42 Q 439.04,239.73 444.58,240.41 L 460.00,241.75 L 492.41,244.56 L 499.23,244.14 Q 504.35,240.47 511.17,238.34 Q 514.58,233.65 521.83,231.51 L 550.90,230.92 L 554.73,234.07 Q 562.41,237.91 566.84,242.17 L 567.95,242.60 Q 581.17,243.20 592.69,245.59 L 593.28,246.61 L 593.54,253.43 L 594.99,254.12 Q 593.54,260.09 588.85,263.50 Q 582.88,267.76 570.09,269.04 Q 555.59,270.15 538.53,269.04 L 528.23,267.76 L 460.00,261.79 L 410.04,255.76 Z" fill="#fff" stroke="#9c9c9c" stroke-width="0.5" stroke-linejoin="round"/>
<path d="M399.04,222.33 C401.09,223.57 407.14,227.37 411.32,229.75 C415.50,232.12 420.28,234.72 424.12,236.57 C427.95,238.42 430.94,239.80 434.35,240.84 C437.76,241.87 441.46,242.36 444.58,242.80 C447.71,243.24 451.69,243.37 453.11,243.48 L453.11,243.99 C451.69,243.96 447.71,243.99 444.58,243.82 C441.46,243.65 437.76,243.52 434.35,242.97 C430.94,242.41 427.95,241.83 424.12,240.49 C420.28,239.16 415.10,236.70 411.32,234.95 C407.54,233.20 403.08,230.83 401.43,230.00 Z" fill="url(#f1q2)"/>
<path d="M402.28,230.86 C403.79,231.62 407.68,233.76 411.32,235.46 C414.96,237.17 419.85,239.70 424.12,241.09 C428.38,242.48 431.79,243.21 436.91,243.82 C442.03,244.43 450.41,244.57 454.82,244.76 C459.23,244.94 461.93,244.90 463.35,244.93 L463.35,245.36 C461.93,245.36 459.23,245.43 454.82,245.36 C450.41,245.29 442.03,245.30 436.91,244.93 C431.79,244.56 428.38,244.15 424.12,243.14 C419.85,242.13 414.72,240.15 411.32,238.87 C407.92,237.59 405.00,236.03 403.73,235.46 Z" fill="url(#f2q2)"/>
<path d="M404.50,237.85 C405.64,238.38 408.76,240.01 411.32,241.01 C413.88,242.00 416.30,243.11 419.85,243.82 C423.40,244.53 430.51,245.03 432.64,245.27 L432.64,245.78 C430.51,245.75 423.40,245.84 419.85,245.61 C416.30,245.38 413.60,244.83 411.32,244.42 C409.05,244.01 407.06,243.35 406.20,243.14 Z" fill="url(#f3q2)"/>
<path d="M 410.30,217.64 L 405.78,220.37 L 422.84,249.79" fill="none" stroke="#3c3c3c" stroke-width="0.6" stroke-linejoin="round"/>
<path d="M 396.82,216.19 L 411.32,214.57 L 413.37,215.51 L 410.47,216.61 L 397.68,217.21 Z" fill="#000"/>
<circle cx="412.17" cy="214.40" r="0.95" fill="#f01818"/>
<path d="M 422.84,249.79 Q 441.17,246.55 470.17,244.50" fill="none" stroke="#d0d0d0" stroke-width="0.5"/>
<path d="M 409.45,251.84 L 444.16,250.13 L 460.00,250.70 L 514.58,250.70 Q 516.29,250.87 516.46,253.94 L 567.95,253.26 L 568.55,255.39 L 594.99,254.03 Q 593.54,260.09 588.85,263.50 Q 582.88,267.76 570.09,269.04 Q 555.59,270.15 538.53,269.04 L 528.23,267.76 L 460.00,261.79 L 410.04,255.76 Z" fill="#1884f8"/>
<path d="M425.40,255.30 C431.17,255.37 449.23,255.60 460.00,255.70 C470.77,255.80 480.67,255.88 490.00,255.90 C499.33,255.92 511.67,255.82 516.00,255.80" fill="none" stroke="#a4c8ff" stroke-width="1.1"/>
<path d="M516.00,255.75 C520.00,255.71 531.33,255.67 540.00,255.50 C548.67,255.33 563.08,254.78 568.00,254.75 C572.92,254.72 569.25,255.21 569.50,255.30" fill="none" stroke="#eef2ff" stroke-width="1.3"/>
<path d="M425.40,252.80 C431.17,252.87 449.23,253.10 460.00,253.20 C470.77,253.30 480.67,253.38 490.00,253.40 C499.33,253.42 507.67,253.37 516.00,253.30 C524.33,253.23 531.33,253.15 540.00,253.00 C548.67,252.85 563.33,252.50 568.00,252.40 L568.00,253.70 C563.33,253.87 548.67,254.47 540.00,254.70 C531.33,254.92 524.33,254.98 516.00,255.05 C507.67,255.12 499.33,255.17 490.00,255.15 C480.67,255.13 470.77,255.05 460.00,254.95 C449.23,254.85 431.17,254.62 425.40,254.55 Z" fill="#0014f0"/>
<path d="M 423.26,251.33 L 423.43,258.49" fill="none" stroke="#d8e6ff" stroke-width="0.5"/>
<path d="M 567.95,242.60 Q 568.55,249.85 569.40,255.82 Q 572.64,260.94 572.64,268.44" fill="none" stroke="#5a5a6a" stroke-opacity="0.55" stroke-width="0.45"/>
<path d="M 592.69,245.59 Q 590.98,249.85 591.58,254.29 Q 590.98,260.09 588.85,263.50" fill="none" stroke="#777" stroke-opacity="0.5" stroke-width="0.45"/>
<path d="M 569.40,250.87 Q 581.17,249.42 591.41,250.53" fill="none" stroke="#bbb" stroke-width="0.45"/>
<ellipse cx="425.82" cy="250.13" rx="16.8" ry="1.05" fill="#fff" stroke="#a8a8a8" stroke-width="0.45"/>
<path d="M 430.94,249.62 L 442.20,249.62 L 441.68,250.64 L 430.94,250.64 Z" fill="#d9d9d9"/>
<text x="447.7" y="257.5" font-family="'DejaVu Sans', Verdana, sans-serif" font-size="8.9" font-weight="bold" font-style="italic" fill="#e6e6e6" fill-opacity="0.9" stroke="#7a7a7a" stroke-opacity="0.8" stroke-width="0.3" paint-order="stroke">N5176V</text>
<path d="M 503.67,249.42 L 512.20,249.42 Q 513.39,249.59 513.39,250.87 L 513.39,263.67 Q 513.22,265.20 512.03,265.20 L 503.84,265.20 Q 502.64,265.03 502.64,263.67 L 502.64,250.87 Q 502.64,249.59 503.67,249.42 Z" fill="none" stroke="#203060" stroke-opacity="0.6" stroke-width="0.5"/>
<rect x="503.67" y="259.06" width="2.5" height="1.0" fill="#000"/>
<path d="M 528.66,240.47 L 528.66,260.94 Q 528.91,264.35 532.49,264.69 L 551.32,266.06" fill="none" stroke="#304070" stroke-opacity="0.55" stroke-width="0.5"/>
<path d="M 528.23,238.34 L 528.23,253.26 M 529.51,238.34 L 529.51,253.26" fill="none" stroke="#b5b5b5" stroke-width="0.4"/>
<rect x="530.11" y="249.77" width="2.7" height="1.1" rx="0.4" fill="#000"/>
<path d="M 511.17,238.34 Q 515.44,234.07 521.83,231.94 L 549.19,234.67 L 548.34,238.93 L 513.30,240.30 Z" fill="#efefef"/>
<path d="M 499.23,244.14 Q 504.35,240.30 511.17,238.08 L 506.06,245.59 Q 502.22,245.59 499.23,244.14 Z" fill="#80fffc" stroke="#74d4d0" stroke-width="0.3"/>
<path d="M 527.38,240.30 L 514.58,240.30 Q 512.45,240.47 511.17,242.86 L 509.21,246.01 Q 508.78,247.46 511.17,247.80 L 527.21,248.66 Z" fill="#80fffc" stroke="#74d4d0" stroke-width="0.3"/>
<path d="M 530.11,239.62 L 548.17,239.10 L 550.47,246.95 L 530.11,247.46 Z" fill="#80fffc" stroke="#74d4d0" stroke-width="0.3"/>
<path d="M 551.49,235.01 L 554.73,233.99 Q 562.41,237.48 566.67,242.00 Q 564.12,245.16 559.85,246.10 L 554.05,246.61 Z" fill="#80fffc"/>
<path d="M 560.53,242.35 L 566.67,242.00 Q 564.54,244.73 562.84,245.33 L 560.87,244.73 Z" fill="#188a86"/>
<path d="M 554.05,246.70 L 559.85,246.18 Q 564.12,245.25 566.76,242.09" fill="none" stroke="#0a2020" stroke-width="0.55"/>
<path d="M 511.17,238.34 Q 514.58,233.65 521.58,231.26 Q 536.82,228.10 550.90,229.55 Q 553.45,231.51 552.60,235.35 Q 551.32,236.38 549.19,235.86 L 523.11,237.06 Z" fill="#fff" stroke="#a8a8a8" stroke-width="0.45"/>
<path d="M522.2,231.5 Q536,229.9 550.0,229.95 Q550.9,231.2 550.2,232.5 Q536,233.1 523.0,233.75 Q521.7,232.7 522.2,231.5 Z" fill="#1884f8"/>
<path d="M 523.11,237.06 L 548.34,236.72" fill="none" stroke="#c4c4c4" stroke-width="0.9"/>
<circle cx="544.93" cy="231.51" r="0.85" fill="#18c828"/>
<path d="M 548.93,234.67 L 551.49,234.50 L 557.12,266.48 L 554.31,266.65 Z" fill="#fff" stroke="#b0b0b0" stroke-width="0.4"/>
<path d="M 550.90,266.48 L 557.97,266.31 L 558.14,267.93 L 550.72,267.93 Z" fill="#1470d8"/>
<path d="M 529.19,266.32 L 535.72,265.94 L 535.91,267.96 L 534.47,268.44 L 535.14,270.83 L 532.26,270.83 L 532.26,268.44 L 529.39,268.24 Z" fill="#fff" stroke="#cfcfcf" stroke-width="0.4"/>
<ellipse cx="597.3" cy="237.6" rx="1.45" ry="11.2" fill="#000"/>
<ellipse cx="597.95" cy="262.4" rx="1.45" ry="11.2" fill="#000"/>
<path d="M593.2,248.5 Q594,247 595.9,246.7 L596.3,253.0 Q594.4,253.0 593.5,252.2 Q592.9,250.4 593.2,248.5 Z" fill="#000"/>
<path d="M595.9,246.6 Q601.5,247.0 606.3,249.5 Q601.5,252.3 596.1,253.0 Q595.0,249.8 595.9,246.6 Z" fill="#fff" stroke="#bdbdbd" stroke-width="0.4"/>
</g>
<g transform="translate(571.80,145.55) scale(0.5)">
<linearGradient id="f1q3" gradientUnits="userSpaceOnUse" x1="437" y1="0" x2="452" y2="0"><stop offset="0" stop-color="#1884f8"/><stop offset="1" stop-color="#1884f8" stop-opacity="0"/></linearGradient>
<linearGradient id="f2q3" gradientUnits="userSpaceOnUse" x1="441" y1="0" x2="461" y2="0"><stop offset="0" stop-color="#0014f0"/><stop offset="1" stop-color="#0014f0" stop-opacity="0"/></linearGradient>
<linearGradient id="f3q3" gradientUnits="userSpaceOnUse" x1="420" y1="0" x2="432" y2="0"><stop offset="0" stop-color="#1884f8"/><stop offset="1" stop-color="#1884f8" stop-opacity="0"/></linearGradient>
<radialGradient id="wq3" cx="0.5" cy="0.05" r="0.55"><stop offset="0" stop-color="#c8c8c8"/><stop offset="0.5" stop-color="#444"/><stop offset="1" stop-color="#000"/></radialGradient>
<ellipse cx="535.7" cy="278.4" rx="5.5" ry="5.1" fill="url(#wq3)"/>
<ellipse cx="577.4" cy="278.8" rx="4.6" ry="4.3" fill="url(#wq3)"/>
<path d="M574.6,268.8 L577.2,268.8 L578.3,272.6 L573.2,272.6 Z" fill="#c9c9c9" stroke="#999" stroke-width="0.3"/>
<ellipse cx="581.3" cy="268.3" rx="1.4" ry="1.1" fill="#000"/>
<ellipse cx="534.1" cy="275.4" rx="14.5" ry="4.9" fill="#fff" stroke="#cfcfcf" stroke-width="0.7"/>
<ellipse cx="576.1" cy="276.1" rx="11.7" ry="3.8" fill="#fff" stroke="#cfcfcf" stroke-width="0.7"/>
<path d="M530.2,278.1 A5.5,5.4 0 0 0 541.2,278.1 Q535.7,278.9 530.2,278.1 Z" fill="url(#wq3)"/>
<path d="M572.8,278.5 A4.6,4.6 0 0 0 582.0,278.5 Q577.4,279.2 572.8,278.5 Z" fill="url(#wq3)"/>
<path d="M 408.34,254.48 L 397.25,216.96 L 414.73,215.51 L 436.06,237.42 Q 439.04,239.73 444.58,240.41 L 460.00,241.75 L 492.41,244.56 L 499.23,244.14 Q 504.35,240.47 511.17,238.34 Q 514.58,233.65 521.83,231.51 L 550.90,230.92 L 554.73,234.07 Q 562.41,237.91 566.84,242.17 L 567.95,242.60 Q 581.17,243.20 592.69,245.59 L 593.28,246.61 L 593.54,253.43 L 594.99,254.12 Q 593.54,260.09 588.85,263.50 Q 582.88,267.76 570.09,269.04 Q 555.59,270.15 538.53,269.04 L 528.23,267.76 L 460.00,261.79 L 410.04,255.76 Z" fill="#fff" stroke="#9c9c9c" stroke-width="0.5" stroke-linejoin="round"/>
<path d="M399.04,222.33 C401.09,223.57 407.14,227.37 411.32,229.75 C415.50,232.12 420.28,234.72 424.12,236.57 C427.95,238.42 430.94,239.80 434.35,240.84 C437.76,241.87 441.46,242.36 444.58,242.80 C447.71,243.24 451.69,243.37 453.11,243.48 L453.11,243.99 C451.69,243.96 447.71,243.99 444.58,243.82 C441.46,243.65 437.76,243.52 434.35,242.97 C430.94,242.41 427.95,241.83 424.12,240.49 C420.28,239.16 415.10,236.70 411.32,234.95 C407.54,233.20 403.08,230.83 401.43,230.00 Z" fill="url(#f1q3)"/>
<path d="M402.28,230.86 C403.79,231.62 407.68,233.76 411.32,235.46 C414.96,237.17 419.85,239.70 424.12,241.09 C428.38,242.48 431.79,243.21 436.91,243.82 C442.03,244.43 450.41,244.57 454.82,244.76 C459.23,244.94 461.93,244.90 463.35,244.93 L463.35,245.36 C461.93,245.36 459.23,245.43 454.82,245.36 C450.41,245.29 442.03,245.30 436.91,244.93 C431.79,244.56 428.38,244.15 424.12,243.14 C419.85,242.13 414.72,240.15 411.32,238.87 C407.92,237.59 405.00,236.03 403.73,235.46 Z" fill="url(#f2q3)"/>
<path d="M404.50,237.85 C405.64,238.38 408.76,240.01 411.32,241.01 C413.88,242.00 416.30,243.11 419.85,243.82 C423.40,244.53 430.51,245.03 432.64,245.27 L432.64,245.78 C430.51,245.75 423.40,245.84 419.85,245.61 C416.30,245.38 413.60,244.83 411.32,244.42 C409.05,244.01 407.06,243.35 406.20,243.14 Z" fill="url(#f3q3)"/>
<path d="M 410.30,217.64 L 405.78,220.37 L 422.84,249.79" fill="none" stroke="#3c3c3c" stroke-width="0.6" stroke-linejoin="round"/>
<path d="M 396.82,216.19 L 411.32,214.57 L 413.37,215.51 L 410.47,216.61 L 397.68,217.21 Z" fill="#000"/>
<circle cx="412.17" cy="214.40" r="0.95" fill="#f01818"/>
<path d="M 422.84,249.79 Q 441.17,246.55 470.17,244.50" fill="none" stroke="#d0d0d0" stroke-width="0.5"/>
<path d="M 409.45,251.84 L 444.16,250.13 L 460.00,250.70 L 514.58,250.70 Q 516.29,250.87 516.46,253.94 L 567.95,253.26 L 568.55,255.39 L 594.99,254.03 Q 593.54,260.09 588.85,263.50 Q 582.88,267.76 570.09,269.04 Q 555.59,270.15 538.53,269.04 L 528.23,267.76 L 460.00,261.79 L 410.04,255.76 Z" fill="#1884f8"/>
<path d="M425.40,255.30 C431.17,255.37 449.23,255.60 460.00,255.70 C470.77,255.80 480.67,255.88 490.00,255.90 C499.33,255.92 511.67,255.82 516.00,255.80" fill="none" stroke="#a4c8ff" stroke-width="1.1"/>
<path d="M516.00,255.75 C520.00,255.71 531.33,255.67 540.00,255.50 C548.67,255.33 563.08,254.78 568.00,254.75 C572.92,254.72 569.25,255.21 569.50,255.30" fill="none" stroke="#eef2ff" stroke-width="1.3"/>
<path d="M425.40,252.80 C431.17,252.87 449.23,253.10 460.00,253.20 C470.77,253.30 480.67,253.38 490.00,253.40 C499.33,253.42 507.67,253.37 516.00,253.30 C524.33,253.23 531.33,253.15 540.00,253.00 C548.67,252.85 563.33,252.50 568.00,252.40 L568.00,253.70 C563.33,253.87 548.67,254.47 540.00,254.70 C531.33,254.92 524.33,254.98 516.00,255.05 C507.67,255.12 499.33,255.17 490.00,255.15 C480.67,255.13 470.77,255.05 460.00,254.95 C449.23,254.85 431.17,254.62 425.40,254.55 Z" fill="#0014f0"/>
<path d="M 423.26,251.33 L 423.43,258.49" fill="none" stroke="#d8e6ff" stroke-width="0.5"/>
<path d="M 567.95,242.60 Q 568.55,249.85 569.40,255.82 Q 572.64,260.94 572.64,268.44" fill="none" stroke="#5a5a6a" stroke-opacity="0.55" stroke-width="0.45"/>
<path d="M 592.69,245.59 Q 590.98,249.85 591.58,254.29 Q 590.98,260.09 588.85,263.50" fill="none" stroke="#777" stroke-opacity="0.5" stroke-width="0.45"/>
<path d="M 569.40,250.87 Q 581.17,249.42 591.41,250.53" fill="none" stroke="#bbb" stroke-width="0.45"/>
<ellipse cx="425.82" cy="250.13" rx="16.8" ry="1.05" fill="#fff" stroke="#a8a8a8" stroke-width="0.45"/>
<path d="M 430.94,249.62 L 442.20,249.62 L 441.68,250.64 L 430.94,250.64 Z" fill="#d9d9d9"/>
<text x="447.7" y="257.5" font-family="'DejaVu Sans', Verdana, sans-serif" font-size="8.9" font-weight="bold" font-style="italic" fill="#e6e6e6" fill-opacity="0.9" stroke="#7a7a7a" stroke-opacity="0.8" stroke-width="0.3" paint-order="stroke">N5176V</text>
<path d="M 503.67,249.42 L 512.20,249.42 Q 513.39,249.59 513.39,250.87 L 513.39,263.67 Q 513.22,265.20 512.03,265.20 L 503.84,265.20 Q 502.64,265.03 502.64,263.67 L 502.64,250.87 Q 502.64,249.59 503.67,249.42 Z" fill="none" stroke="#203060" stroke-opacity="0.6" stroke-width="0.5"/>
<rect x="503.67" y="259.06" width="2.5" height="1.0" fill="#000"/>
<path d="M 528.66,240.47 L 528.66,260.94 Q 528.91,264.35 532.49,264.69 L 551.32,266.06" fill="none" stroke="#304070" stroke-opacity="0.55" stroke-width="0.5"/>
<path d="M 528.23,238.34 L 528.23,253.26 M 529.51,238.34 L 529.51,253.26" fill="none" stroke="#b5b5b5" stroke-width="0.4"/>
<rect x="530.11" y="249.77" width="2.7" height="1.1" rx="0.4" fill="#000"/>
<path d="M 511.17,238.34 Q 515.44,234.07 521.83,231.94 L 549.19,234.67 L 548.34,238.93 L 513.30,240.30 Z" fill="#efefef"/>
<path d="M 499.23,244.14 Q 504.35,240.30 511.17,238.08 L 506.06,245.59 Q 502.22,245.59 499.23,244.14 Z" fill="#80fffc" stroke="#74d4d0" stroke-width="0.3"/>
<path d="M 527.38,240.30 L 514.58,240.30 Q 512.45,240.47 511.17,242.86 L 509.21,246.01 Q 508.78,247.46 511.17,247.80 L 527.21,248.66 Z" fill="#80fffc" stroke="#74d4d0" stroke-width="0.3"/>
<path d="M 530.11,239.62 L 548.17,239.10 L 550.47,246.95 L 530.11,247.46 Z" fill="#80fffc" stroke="#74d4d0" stroke-width="0.3"/>
<path d="M 551.49,235.01 L 554.73,233.99 Q 562.41,237.48 566.67,242.00 Q 564.12,245.16 559.85,246.10 L 554.05,246.61 Z" fill="#80fffc"/>
<path d="M 560.53,242.35 L 566.67,242.00 Q 564.54,244.73 562.84,245.33 L 560.87,244.73 Z" fill="#188a86"/>
<path d="M 554.05,246.70 L 559.85,246.18 Q 564.12,245.25 566.76,242.09" fill="none" stroke="#0a2020" stroke-width="0.55"/>
<path d="M 511.17,238.34 Q 514.58,233.65 521.58,231.26 Q 536.82,228.10 550.90,229.55 Q 553.45,231.51 552.60,235.35 Q 551.32,236.38 549.19,235.86 L 523.11,237.06 Z" fill="#fff" stroke="#a8a8a8" stroke-width="0.45"/>
<path d="M522.2,231.5 Q536,229.9 550.0,229.95 Q550.9,231.2 550.2,232.5 Q536,233.1 523.0,233.75 Q521.7,232.7 522.2,231.5 Z" fill="#1884f8"/>
<path d="M 523.11,237.06 L 548.34,236.72" fill="none" stroke="#c4c4c4" stroke-width="0.9"/>
<circle cx="544.93" cy="231.51" r="0.85" fill="#18c828"/>
<path d="M 548.93,234.67 L 551.49,234.50 L 557.12,266.48 L 554.31,266.65 Z" fill="#fff" stroke="#b0b0b0" stroke-width="0.4"/>
<path d="M 550.90,266.48 L 557.97,266.31 L 558.14,267.93 L 550.72,267.93 Z" fill="#1470d8"/>
<path d="M 529.19,266.32 L 535.72,265.94 L 535.91,267.96 L 534.47,268.44 L 535.14,270.83 L 532.26,270.83 L 532.26,268.44 L 529.39,268.24 Z" fill="#fff" stroke="#cfcfcf" stroke-width="0.4"/>
<ellipse cx="597.3" cy="237.6" rx="1.45" ry="11.2" fill="#000"/>
<ellipse cx="597.95" cy="262.4" rx="1.45" ry="11.2" fill="#000"/>
<path d="M593.2,248.5 Q594,247 595.9,246.7 L596.3,253.0 Q594.4,253.0 593.5,252.2 Q592.9,250.4 593.2,248.5 Z" fill="#000"/>
<path d="M595.9,246.6 Q601.5,247.0 606.3,249.5 Q601.5,252.3 596.1,253.0 Q595.0,249.8 595.9,246.6 Z" fill="#fff" stroke="#bdbdbd" stroke-width="0.4"/>
</g>
</g>
</svg>
</body></html>
